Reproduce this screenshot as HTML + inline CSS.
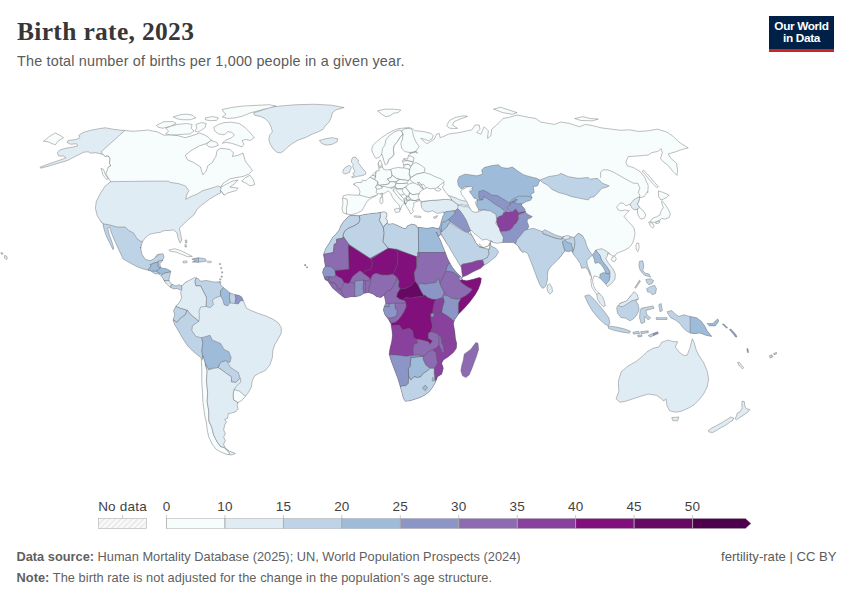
<!DOCTYPE html>
<html lang="en"><head><meta charset="utf-8"><title>Birth rate, 2023</title>
<style>
html,body{margin:0;padding:0;background:#fff;}
body{width:850px;height:600px;position:relative;overflow:hidden;font-family:"Liberation Sans",sans-serif;}
.title{position:absolute;left:17px;top:16px;font-family:"Liberation Serif",serif;font-weight:bold;font-size:25.5px;line-height:32px;color:#373737;white-space:nowrap;letter-spacing:0.32px;}
.sub{position:absolute;left:17px;top:51px;font-size:14.4px;line-height:20px;color:#5b5b5b;white-space:nowrap;letter-spacing:0.18px;}
.logo{position:absolute;left:769px;top:16px;width:65px;height:33px;background:#002147;border-bottom:3px solid #ce261e;color:#fff;font-weight:bold;font-size:11.8px;line-height:12.4px;text-align:center;letter-spacing:-0.35px;}
.logo span{display:block;padding-top:4px;}
.foot{position:absolute;left:16.5px;font-size:12.8px;line-height:16px;color:#5f5f5f;white-space:nowrap;}
.foot b{font-weight:bold;}
.f1{top:549px;} .f2{top:569.5px;letter-spacing:0.045px;}
.fr{position:absolute;right:13.5px;top:549px;font-size:13.1px;line-height:16px;color:#5b5b5b;white-space:nowrap;}
svg{position:absolute;left:0;top:0;}
.lg{font-family:"Liberation Sans",sans-serif;font-size:13.5px;letter-spacing:0.2px;fill:#3f3f3f;}
</style></head><body>
<svg width="850" height="600" viewBox="0 0 850 600">
<defs>
<pattern id="hatch" patternUnits="userSpaceOnUse" width="4" height="4" patternTransform="rotate(45)"><rect width="4" height="4" fill="#f8f8f8"/><line x1="0" y1="0" x2="0" y2="4" stroke="#dadada" stroke-width="1.4"/></pattern>
</defs>
<defs>
<clipPath id="cl0"><path d="M124.71,130.59 L114.12,129.41 L105.18,127.76 L97.65,128.94 L89.41,130.59 L83.06,132.47 L78.82,135.29 L80,137.65 L76,139.53 L68.24,140.47 L67.06,142.35 L70.59,144.24 L76.47,143.76 L77.65,145.88 L72.94,147.06 L65.88,148.24 L60,149.88 L57.18,152.94 L58.82,156 L63.53,156 L65.88,157.65 L62.35,159.29 L55.29,161.65 L48.24,164 L40,167.29 L40.71,168.24 L49.41,165.88 L58.82,163.06 L67.06,160.71 L70.59,158.82 L75.29,156.47 L80,154.12 L83.53,152.24 L88.24,151.76 L90.59,153.18 L95.29,152.71 L100,153.65 L102.82,154.59 L105.18,156.47 L108.24,156 L109.88,158.82 L109.41,163.53 L110.59,165.88 L108.24,167.06 L107.06,170.59 L105.88,174.12 L107.53,176.47 L109.41,180 L110.82,181.65 L105.29,185.88 L100.59,192.94 L96.35,201.18 L95.41,208.24 L97.06,215.29 L100.59,221.18 L102.94,223.76 L104.12,229.41 L106.47,236.47 L110,243.53 L113.06,249.65 L113.76,248.24 L111.88,241.65 L109.53,235.29 L107.65,228.24 L109.53,227.06 L111.88,234.12 L115.88,243.53 L120.12,252.47 L122.94,258.82 L128.82,262.35 L135.88,266.12 L141.76,268.47 L147.65,270.12 L151.18,271.29 L154.71,273.65 L158.94,274.12 L162.24,276.94 L164.12,280.71 L166.47,284 L170,287.06 L173.53,288.94 L177.06,288.47 L180.12,290.12 L182.47,289.65 L181.76,289.41 L182,285.88 L179.41,284.71 L175.88,285.88 L173.06,284.71 L170.71,283.53 L168.82,280 L170,275.29 L170.71,271.06 L166.47,268.71 L160.59,267.76 L159.88,263.53 L162.24,261.18 L164.12,256.47 L162.94,253.65 L157.06,254.59 L154.71,258.35 L150,260.71 L145.29,259.29 L141.76,254.12 L140.59,247.06 L140.59,248.24 L142.47,241.65 L145.29,237.65 L150,234.12 L155.88,232.94 L160.59,232.24 L164.12,230.59 L168.82,230.59 L173.53,229.88 L177.06,232.94 L178.24,238.82 L180.12,243.06 L181.76,240 L180.59,234.12 L179.41,228.24 L182.94,224.71 L187.65,220 L193.53,215.29 L197.06,209.41 L200.59,205.88 L205.29,202.35 L210,198.82 L215.88,195.29 L220.59,192.94 L220.59,190.59 L224.12,195.29 L227.65,192.94 L235.88,190.59 L238.24,188.24 L230,187.06 L234.71,183.53 L238.24,180 L232.35,181.18 L225.29,184.71 L220.59,187.53 L222.94,183.53 L230,178.82 L235.88,177.65 L242.94,176.47 L248.82,174.12 L252.35,170.59 L250,167.06 L245.29,161.18 L242.94,152.94 L238.24,155.29 L232.35,156.47 L233.53,152.94 L230,149.41 L220.59,148.24 L217.06,150.59 L215.88,156.47 L212.35,162.35 L207.65,165.88 L206.47,170.59 L202.94,174.82 L201.76,171.76 L200.59,167.06 L193.53,162.35 L187.65,160 L185.29,155.29 L191.18,150.59 L199.41,145.88 L206.47,143.53 L211.65,140.47 L208.82,137.65 L205.29,135.29 L199.41,132.94 L193.53,135.29 L185.29,137.65 L178.24,135.76 L171.18,134.82 L164.12,135.29 L157.06,131.76 L150,130.59 L149.41,129.88 L142.35,130.59 L132.94,131.29Z"/></clipPath>
<clipPath id="cl2"><path d="M191.88,259.06 L198.24,257.65 L205.29,258.82 L206.47,261.18 L198.24,262.35 L192.35,262.12 L195.18,260.71Z"/></clipPath>
<clipPath id="cl26"><path d="M181.76,285.88 L185.29,282.35 L190,280 L194.24,277.65 L197.53,278.12 L200.59,281.18 L206.47,280.47 L213.53,281.88 L219.41,281.88 L221.06,285.18 L223.41,287.53 L226.47,289.88 L230,292.94 L234.71,294.59 L238.94,295.29 L241.76,296.94 L243.18,300.24 L244.59,303.53 L246.47,308.24 L251.18,310.59 L258.24,313.41 L265.29,315.76 L272.35,318.82 L278.24,322.82 L281.29,327.53 L281.29,332.94 L278.24,338.82 L274.71,344.71 L272.82,350.59 L272.35,357.65 L270,364.71 L265.29,370.59 L259.41,373.06 L254.71,375.88 L252.35,380.59 L251.18,387.65 L247.65,393.53 L244.82,397.06 L241.76,400.59 L238.24,402.24 L237.06,405.29 L238.24,408.82 L235.88,411.65 L231.65,413.06 L228.35,413.53 L227.65,418.24 L224.59,419.41 L226.47,421.76 L224.59,425.29 L223.65,430 L225.29,433.53 L223.65,437.06 L225.29,440.59 L223.65,444.12 L224.59,446.94 L226.47,448.82 L229.29,451.18 L233.06,452.35 L235.41,453.53 L231.65,454.94 L226.47,454.24 L220.59,451.88 L215.88,449.06 L212.35,444.35 L208.82,437.29 L207.18,430 L206.47,422.94 L205.29,418.24 L204.12,411.18 L202.94,401.76 L202.47,392.35 L201.76,380.59 L201.76,368.82 L201.29,359.41 L201.76,358.82 L199.41,356.47 L193.53,351.76 L187.65,345.88 L182.94,338.82 L178.24,330.59 L174.71,324.71 L173.06,320 L174.71,314.82 L173.53,310.59 L175.88,306.35 L179.41,302.35 L181.76,297.65 L180.59,292.94 L181.76,289.41Z"/></clipPath>
<clipPath id="cl27"><path d="M349.17,215.83 L352.5,215.33 L359.17,215.83 L363.33,214.67 L370,213.67 L376.67,213 L380,212.5 L384.17,211.67 L386.67,213 L387,215.83 L385.83,218.33 L387.5,220.83 L387,223.33 L388.33,224.17 L393.33,223.67 L398.33,225.83 L403.33,228.33 L405.83,228.67 L407.5,225.83 L411.67,224.17 L415.83,225 L417.5,227.5 L420,227.5 L426.67,228.33 L433.33,227.5 L436.67,228.33 L439.17,228.5 L440,228.17 L440.67,234.17 L438.83,236.5 L436,232 L436.5,232 L437.67,235.33 L440.67,240.67 L442.83,246.5 L445,251.83 L447.5,258.33 L450,263.33 L452.5,267.5 L455.83,271.67 L459.17,275 L461.67,277.5 L462.5,280 L466.67,280.83 L473.33,279.17 L479.17,277.5 L481.33,278.33 L480.83,282.5 L478.33,289.17 L475,295 L470,301.67 L465,307.5 L460.83,311.67 L458.33,314.17 L455,319.17 L453.33,323.33 L454.17,328.33 L455,333.33 L455.33,338.33 L456.67,343.33 L456.33,348.33 L453.33,352.5 L448.33,356.67 L443.33,360 L441.67,363.33 L443.33,368.33 L441.67,374.17 L437.5,376.67 L436.67,379.17 L435,383.33 L432.5,387.5 L429.17,391.67 L425,395 L420,397.5 L415,399.17 L410,400.83 L405.33,401.33 L403.33,398.33 L401.67,391.67 L400,385.83 L398.33,380 L395.83,373.33 L393.33,366.67 L390.83,360 L389.17,354.17 L390,348.33 L391.67,341.67 L392.5,335 L391.67,328.33 L390.83,323.33 L388.33,319.17 L385,315 L383.33,310 L384.17,306.67 L385.83,303.33 L385,299.17 L384.17,295 L380.83,297.5 L376.67,296.67 L373.33,294.17 L368.67,292.5 L365.83,293 L364.17,293.33 L360,295.83 L355.33,296.67 L350.83,296.67 L345,298 L341.67,295.83 L338.33,293 L335.83,290.83 L332.5,288 L330,284.17 L327.5,280.83 L325,279.67 L324.17,277 L322.5,272.5 L323.33,269.17 L325.33,266.33 L324.67,262.5 L324.17,258.33 L323.33,254.67 L325.83,248.33 L329.17,243.33 L332.5,237.5 L335.83,234.17 L339.17,230 L340.83,225.83 L343.33,221.67 L346.67,218.33Z"/></clipPath>
<clipPath id="cl29"><path d="M359.17,195.33 L360,191.67 L358.33,187.5 L353.33,184.17 L356.67,182.5 L361.67,182.5 L362.5,180 L365.83,180.83 L368.33,178.33 L370.83,176.67 L374.17,173.33 L376.67,170.83 L379.17,170.83 L378.67,167.5 L378,163.33 L380,160 L381.67,162.5 L382.5,166.67 L383.33,169.17 L385.83,170 L390,169.67 L393.33,168.33 L398.33,167.5 L402.5,168 L404.17,166.67 L403.33,164.17 L402.5,160.83 L404.17,158.33 L407.5,159.17 L408.33,155.83 L410,153.33 L413.33,152.5 L416.67,151.67 L417.5,153.33 L415,151.67 L410,152.5 L405,151.67 L401.67,148.33 L400.83,143.33 L402.5,139.17 L403,134.17 L400,137.5 L397.5,141.67 L394.17,145.83 L393.33,150 L394.17,154.17 L392.5,156.67 L389.17,159.17 L387.5,163.33 L385.33,165 L385,164.17 L383.33,159.17 L382.5,155.83 L381.67,154.17 L379.17,157.5 L375.83,158.33 L374.17,155.83 L371.67,150 L372.5,145.83 L376.67,141.67 L381.67,137.5 L386.67,134.17 L392.5,130.83 L398.33,128.67 L404.17,128 L409.17,127.5 L413.33,129.17 L415,130.83 L417.5,130.83 L424.17,131.67 L430.83,133.33 L433.33,135.83 L431.67,139.17 L428.33,140.83 L424.17,139.17 L420.83,138.33 L423.33,140.83 L426.67,143.67 L429.17,142.5 L434.17,139.17 L436.67,134.17 L439.17,133.33 L440,137.5 L443.33,136.67 L448.33,134.17 L453.33,133.33 L460,132.5 L466.67,130.83 L471.67,130 L475,125 L479.17,125 L480,129.17 L476.67,132.5 L480.83,134.17 L484.17,126.67 L488.33,130.83 L487.5,138.33 L490.83,135.83 L491.67,129.17 L496.67,125 L500,121.67 L502.94,118.53 L508.82,117.35 L517.06,115 L522.94,116.18 L528.82,117.35 L535.88,118.53 L540.59,122.06 L547.65,123.24 L554.71,124.41 L560.59,122.06 L568.82,123.24 L575.88,125.59 L579.41,126.76 L585.29,124.41 L592.35,125.59 L601.76,127.94 L611.18,129.12 L620.59,130.29 L629.41,129.82 L638.82,131.47 L648.24,130.76 L657.65,129.12 L667.06,132.18 L672.94,136.18 L678.82,142.06 L688.24,147.94 L681.65,149.59 L675.29,151.94 L668.24,153.82 L670.59,158.06 L676.47,163.24 L677.65,170.29 L676.94,175.47 L672.94,171.47 L668.24,165.59 L663.53,162.06 L660.47,158.53 L662.35,152.65 L661.18,148.65 L657.65,151.47 L651.76,152.65 L648.24,155 L641.18,155.71 L634.12,156.18 L628.24,156.65 L625.88,162.06 L627.06,165.59 L634.12,167.94 L640,171.47 L644.71,177.35 L648.24,185.59 L647.76,192.65 L647.5,191.67 L644.17,196.67 L640.83,197.5 L639.67,197 L639.17,200.83 L637.5,204.17 L639.67,207.5 L643.33,210.83 L645.83,215 L644.17,218.33 L640.83,219.17 L638.33,215.83 L637.5,212.5 L637.5,209.17 L634.17,210 L631.67,207.5 L630,204.17 L625.83,205.83 L623.33,203.33 L620.33,202.83 L616.67,207 L618,209.67 L620.83,210.83 L625,210 L629.17,210.83 L625.83,214.17 L624.17,216.67 L627.5,220.83 L631.67,225 L634.17,228.33 L635,233.33 L634.17,238.33 L632.5,243.33 L629.17,247.5 L625,250 L620,252 L616.67,253.33 L615,255.83 L612.5,255.83 L610,254.17 L607.5,253.33 L607.5,255.83 L605.83,258.33 L607.5,261.67 L610,265 L613.33,269.17 L615.33,274.17 L615,279.17 L611.67,283.33 L607.5,286.67 L605.83,284.17 L602.5,280.83 L600,278.33 L597.5,276.67 L594.17,275.83 L592.5,280 L593.33,285 L595.83,290 L599.17,293.33 L602.5,296.67 L604.17,300.83 L605.33,305.83 L603.33,306.67 L600,303.33 L597.5,299.17 L596.67,294.17 L594.17,290.83 L591.67,286.67 L590.83,280.83 L591.33,276.67 L590,275 L588.33,270.83 L585.83,267.5 L581.67,268.33 L580,263.33 L576.67,258.33 L573.33,254.17 L572.5,251.67 L570.83,250.83 L568.33,251.67 L565,250.83 L562.5,254.17 L560,257.5 L555.83,261.67 L551.67,265.83 L548.33,270 L547.5,274.17 L547.5,280 L545.83,285.83 L543.67,288 L542.5,288.33 L540,285 L537.5,279.17 L535,272.5 L532.5,265.83 L530,259.17 L527.5,253.33 L524.17,251.67 L522.5,252.5 L520,250 L518.33,246.67 L518.33,246.33 L515.83,244.17 L513.33,242.5 L502.5,242.5 L496.67,243.33 L490.83,241.67 L486.67,239.17 L482.5,240 L478.33,236.67 L474.17,233.33 L470.83,230 L470,231.67 L470.83,233.33 L473.33,237.5 L475.83,242.5 L478.67,245.83 L479.67,243.83 L481,245.83 L483.33,247.5 L488.33,245.83 L490.33,242 L490.83,245.83 L495.83,248.33 L498.67,251.67 L495.83,256.67 L491.67,260 L487.5,263.33 L484.17,265 L480.83,268.33 L473.33,271.67 L467.5,275 L463.33,276.67 L462.5,277.5 L461.67,270.83 L461.17,267 L458.83,263.5 L455.33,257.67 L451.83,251.83 L448.83,246.5 L445.33,241.17 L442.33,236.5 L440.67,234.33 L440.83,230 L439.17,228 L440.33,225 L441.67,220 L443,215.83 L444.17,214.17 L443.33,211.67 L440.83,213 L436.67,213.33 L432.5,210.83 L428.33,212 L424.17,210.83 L421.67,207.5 L420.83,203.33 L421.67,200.33 L419.17,200.83 L416.67,201.67 L413.33,203.33 L414.17,205.83 L412.5,208.33 L413.33,211.67 L410.83,214.17 L409.17,210.83 L406.67,206.67 L405,204.17 L404.17,200.83 L403.33,198.33 L400.83,195.83 L397.5,191.67 L395.83,188.67 L393.33,189.17 L394.17,191.67 L396.67,195 L399.17,198.33 L402.5,200.83 L405.83,204.17 L404.17,203.33 L401.67,205.83 L400.33,210 L399.17,205 L395.83,201.67 L392.5,197.5 L390.83,193.33 L388.33,190.83 L385.83,192.5 L382.5,194.17 L378.67,193.67 L375.83,195.83 L372.5,197.5 L368.33,200 L365.83,203.33 L364.17,206.67 L361.67,210.83 L356.67,213.33 L351.67,214.67 L346.67,214.17 L343,212.5 L342,208.33 L343,203.33 L342.5,199.17 L343.33,195.83 L347.5,194.67 L353.33,195Z"/></clipPath>
<clipPath id="cl53"><path d="M667.06,311.76 L671.76,310.59 L675.29,314.12 L678.82,316.47 L683.53,314.82 L690.12,316.47 L696.47,317.65 L701.18,321.18 L704.71,325.88 L707.06,330.59 L711.76,336.47 L705.88,335.29 L700,332.94 L694.12,333.65 L690.12,332.94 L685.88,330.59 L682.35,327.06 L680,323.53 L675.29,320 L670.59,317.65 L668.24,314.12Z"/></clipPath>
<clipPath id="cl58"><path d="M616.67,307.5 L620,303.33 L626.67,300.83 L630,296.67 L634.17,291.67 L637.5,295 L638.33,299.17 L635.83,300.83 L638.33,305 L639.17,310 L636.67,315 L634.17,318.33 L630,320.83 L625.83,318.33 L620.83,317.5 L617.5,313.33Z"/></clipPath>
<clipPath id="cl62"><path d="M648.24,335.29 L657.65,331.76 L658.35,333.41 L649.88,337.18Z"/></clipPath>
</defs>
<g id="map" stroke-linejoin="round">
<path d="M124.71,130.59 L114.12,129.41 L105.18,127.76 L97.65,128.94 L89.41,130.59 L83.06,132.47 L78.82,135.29 L80,137.65 L76,139.53 L68.24,140.47 L67.06,142.35 L70.59,144.24 L76.47,143.76 L77.65,145.88 L72.94,147.06 L65.88,148.24 L60,149.88 L57.18,152.94 L58.82,156 L63.53,156 L65.88,157.65 L62.35,159.29 L55.29,161.65 L48.24,164 L40,167.29 L40.71,168.24 L49.41,165.88 L58.82,163.06 L67.06,160.71 L70.59,158.82 L75.29,156.47 L80,154.12 L83.53,152.24 L88.24,151.76 L90.59,153.18 L95.29,152.71 L100,153.65 L102.82,154.59 L105.18,156.47 L108.24,156 L109.88,158.82 L109.41,163.53 L110.59,165.88 L108.24,167.06 L107.06,170.59 L105.88,174.12 L107.53,176.47 L109.41,180 L110.82,181.65 L105.29,185.88 L100.59,192.94 L96.35,201.18 L95.41,208.24 L97.06,215.29 L100.59,221.18 L102.94,223.76 L104.12,229.41 L106.47,236.47 L110,243.53 L113.06,249.65 L113.76,248.24 L111.88,241.65 L109.53,235.29 L107.65,228.24 L109.53,227.06 L111.88,234.12 L115.88,243.53 L120.12,252.47 L122.94,258.82 L128.82,262.35 L135.88,266.12 L141.76,268.47 L147.65,270.12 L151.18,271.29 L154.71,273.65 L158.94,274.12 L162.24,276.94 L164.12,280.71 L166.47,284 L170,287.06 L173.53,288.94 L177.06,288.47 L180.12,290.12 L182.47,289.65 L181.76,289.41 L182,285.88 L179.41,284.71 L175.88,285.88 L173.06,284.71 L170.71,283.53 L168.82,280 L170,275.29 L170.71,271.06 L166.47,268.71 L160.59,267.76 L159.88,263.53 L162.24,261.18 L164.12,256.47 L162.94,253.65 L157.06,254.59 L154.71,258.35 L150,260.71 L145.29,259.29 L141.76,254.12 L140.59,247.06 L140.59,248.24 L142.47,241.65 L145.29,237.65 L150,234.12 L155.88,232.94 L160.59,232.24 L164.12,230.59 L168.82,230.59 L173.53,229.88 L177.06,232.94 L178.24,238.82 L180.12,243.06 L181.76,240 L180.59,234.12 L179.41,228.24 L182.94,224.71 L187.65,220 L193.53,215.29 L197.06,209.41 L200.59,205.88 L205.29,202.35 L210,198.82 L215.88,195.29 L220.59,192.94 L220.59,190.59 L224.12,195.29 L227.65,192.94 L235.88,190.59 L238.24,188.24 L230,187.06 L234.71,183.53 L238.24,180 L232.35,181.18 L225.29,184.71 L220.59,187.53 L222.94,183.53 L230,178.82 L235.88,177.65 L242.94,176.47 L248.82,174.12 L252.35,170.59 L250,167.06 L245.29,161.18 L242.94,152.94 L238.24,155.29 L232.35,156.47 L233.53,152.94 L230,149.41 L220.59,148.24 L217.06,150.59 L215.88,156.47 L212.35,162.35 L207.65,165.88 L206.47,170.59 L202.94,174.82 L201.76,171.76 L200.59,167.06 L193.53,162.35 L187.65,160 L185.29,155.29 L191.18,150.59 L199.41,145.88 L206.47,143.53 L211.65,140.47 L208.82,137.65 L205.29,135.29 L199.41,132.94 L193.53,135.29 L185.29,137.65 L178.24,135.76 L171.18,134.82 L164.12,135.29 L157.06,131.76 L150,130.59 L149.41,129.88 L142.35,130.59 L132.94,131.29Z" fill="#e0ecf4" stroke="none"/>
<g clip-path="url(#cl0)" stroke="#5e5e5e" stroke-width="0.4">
<path d="M124.71,130.59 L101.18,151.76 L102.82,154.59 L105.18,156.47 L108.24,156 L109.88,158.82 L109.41,163.53 L110.59,165.88 L104.71,168.24 L102.35,181.65 L110.82,181.65 L150,181.18 L168.82,181.18 L170,182.35 L178.24,183.53 L185.29,185.88 L188.82,190.59 L186.47,195.29 L185.76,199.29 L191.18,196.47 L197.06,194.12 L202.94,190.59 L211.18,188.24 L218.24,185.88 L221.06,187.53 L220.59,190.59 L225.29,196.47 L244.12,194.12 L258.24,177.65 L253.53,147.06 L220.59,135.29 L197.06,128.24 L150,123.53 L167.06,123.53 L124.71,123.53Z" fill="#f7fcfd"/>
<path d="M100.59,221.18 L102.94,223.76 L108.82,224.71 L117.06,227.06 L125.29,227.06 L128.82,230.59 L133.53,232.94 L137.06,238.82 L140.59,241.18 L143.41,241.65 L147.65,250.59 L154.71,257.65 L165.29,250.59 L166.47,257.65 L161.76,261.18 L158.24,261.18 L158.24,262.35 L155.88,262.35 L150,264.71 L151.18,265.88 L148.82,268.94 L147.65,272.94 L117.06,262.35 L98.24,241.18Z" fill="#bfd3e6"/>
<path d="M150,264.71 L155.88,262.35 L158.24,262.35 L158.24,266.59 L160.59,267.53 L156.59,271.29 L152.35,271.29 L147.65,270.12 L148.82,268.94 L151.18,265.88Z" fill="#9ebcda"/>
<path d="M158.24,261.18 L162.94,260 L162.24,266.59 L160.59,267.53 L158.24,266.59Z" fill="#bfd3e6"/>
<path d="M152.35,271.29 L156.59,271.29 L159.41,272.94 L158.94,275.06 L153.53,274.59 L151.18,272.24Z" fill="#bfd3e6"/>
<path d="M160.59,267.53 L162.24,266.12 L171.18,267.06 L171.65,271.76 L165.29,272.94 L161.76,274.59 L159.41,272.94 L156.59,271.29Z" fill="#9ebcda"/>
<path d="M161.76,274.59 L165.29,272.94 L171.65,271.76 L172.35,280 L168.82,280.71 L164.12,280.71 L160.59,276.94Z" fill="#bfd3e6"/>
<path d="M164.12,280.71 L168.82,280.71 L172.35,280 L173.53,284.71 L171.18,285.18 L170.71,287.76 L164.12,285.88Z" fill="#e0ecf4"/>
<path d="M171.18,285.18 L173.53,283.53 L185.29,283.53 L185.29,291.76 L170.71,290.59 L170.71,287.76Z" fill="#bfd3e6"/>
</g>
<path d="M124.71,130.59 L114.12,129.41 L105.18,127.76 L97.65,128.94 L89.41,130.59 L83.06,132.47 L78.82,135.29 L80,137.65 L76,139.53 L68.24,140.47 L67.06,142.35 L70.59,144.24 L76.47,143.76 L77.65,145.88 L72.94,147.06 L65.88,148.24 L60,149.88 L57.18,152.94 L58.82,156 L63.53,156 L65.88,157.65 L62.35,159.29 L55.29,161.65 L48.24,164 L40,167.29 L40.71,168.24 L49.41,165.88 L58.82,163.06 L67.06,160.71 L70.59,158.82 L75.29,156.47 L80,154.12 L83.53,152.24 L88.24,151.76 L90.59,153.18 L95.29,152.71 L100,153.65 L102.82,154.59 L105.18,156.47 L108.24,156 L109.88,158.82 L109.41,163.53 L110.59,165.88 L108.24,167.06 L107.06,170.59 L105.88,174.12 L107.53,176.47 L109.41,180 L110.82,181.65 L105.29,185.88 L100.59,192.94 L96.35,201.18 L95.41,208.24 L97.06,215.29 L100.59,221.18 L102.94,223.76 L104.12,229.41 L106.47,236.47 L110,243.53 L113.06,249.65 L113.76,248.24 L111.88,241.65 L109.53,235.29 L107.65,228.24 L109.53,227.06 L111.88,234.12 L115.88,243.53 L120.12,252.47 L122.94,258.82 L128.82,262.35 L135.88,266.12 L141.76,268.47 L147.65,270.12 L151.18,271.29 L154.71,273.65 L158.94,274.12 L162.24,276.94 L164.12,280.71 L166.47,284 L170,287.06 L173.53,288.94 L177.06,288.47 L180.12,290.12 L182.47,289.65 L181.76,289.41 L182,285.88 L179.41,284.71 L175.88,285.88 L173.06,284.71 L170.71,283.53 L168.82,280 L170,275.29 L170.71,271.06 L166.47,268.71 L160.59,267.76 L159.88,263.53 L162.24,261.18 L164.12,256.47 L162.94,253.65 L157.06,254.59 L154.71,258.35 L150,260.71 L145.29,259.29 L141.76,254.12 L140.59,247.06 L140.59,248.24 L142.47,241.65 L145.29,237.65 L150,234.12 L155.88,232.94 L160.59,232.24 L164.12,230.59 L168.82,230.59 L173.53,229.88 L177.06,232.94 L178.24,238.82 L180.12,243.06 L181.76,240 L180.59,234.12 L179.41,228.24 L182.94,224.71 L187.65,220 L193.53,215.29 L197.06,209.41 L200.59,205.88 L205.29,202.35 L210,198.82 L215.88,195.29 L220.59,192.94 L220.59,190.59 L224.12,195.29 L227.65,192.94 L235.88,190.59 L238.24,188.24 L230,187.06 L234.71,183.53 L238.24,180 L232.35,181.18 L225.29,184.71 L220.59,187.53 L222.94,183.53 L230,178.82 L235.88,177.65 L242.94,176.47 L248.82,174.12 L252.35,170.59 L250,167.06 L245.29,161.18 L242.94,152.94 L238.24,155.29 L232.35,156.47 L233.53,152.94 L230,149.41 L220.59,148.24 L217.06,150.59 L215.88,156.47 L212.35,162.35 L207.65,165.88 L206.47,170.59 L202.94,174.82 L201.76,171.76 L200.59,167.06 L193.53,162.35 L187.65,160 L185.29,155.29 L191.18,150.59 L199.41,145.88 L206.47,143.53 L211.65,140.47 L208.82,137.65 L205.29,135.29 L199.41,132.94 L193.53,135.29 L185.29,137.65 L178.24,135.76 L171.18,134.82 L164.12,135.29 L157.06,131.76 L150,130.59 L149.41,129.88 L142.35,130.59 L132.94,131.29Z" fill="none" stroke="#5e5e5e" stroke-width="0.4"/>
<path d="M168.82,250.12 L174.71,248.71 L180.59,250.59 L186.47,253.41 L192.35,256.47 L187.65,256.71 L181.76,254.35 L175.88,252 L170,251.29Z" fill="#f7fcfd" stroke="none"/>
<path d="M168.82,250.12 L174.71,248.71 L180.59,250.59 L186.47,253.41 L192.35,256.47 L187.65,256.71 L181.76,254.35 L175.88,252 L170,251.29Z" fill="none" stroke="#5e5e5e" stroke-width="0.4"/>
<path d="M191.88,259.06 L198.24,257.65 L205.29,258.82 L206.47,261.18 L198.24,262.35 L192.35,262.12 L195.18,260.71Z" fill="#bfd3e6" stroke="none"/>
<g clip-path="url(#cl2)" stroke="#5e5e5e" stroke-width="0.4">
<path d="M190,256.47 L198.47,256.47 L198.47,263.53 L190,263.53Z" fill="#9ebcda"/>
</g>
<path d="M191.88,259.06 L198.24,257.65 L205.29,258.82 L206.47,261.18 L198.24,262.35 L192.35,262.12 L195.18,260.71Z" fill="none" stroke="#5e5e5e" stroke-width="0.4"/>
<path d="M182.94,261.18 L186.94,260.94 L187.18,262.59 L183.41,263.06Z" fill="#e0ecf4" stroke="none"/>
<path d="M182.94,261.18 L186.94,260.94 L187.18,262.59 L183.41,263.06Z" fill="none" stroke="#5e5e5e" stroke-width="0.4"/>
<path d="M207.65,261.18 L211.18,261.18 L211.18,262.59 L207.65,262.59Z" fill="#f7fcfd" stroke="none"/>
<path d="M207.65,261.18 L211.18,261.18 L211.18,262.59 L207.65,262.59Z" fill="none" stroke="#5e5e5e" stroke-width="0.4"/>
<path d="M185.29,240 L186.71,240 L186.94,243.06 L185.53,243.06Z" fill="#e0ecf4" stroke="none"/>
<path d="M185.29,240 L186.71,240 L186.94,243.06 L185.53,243.06Z" fill="none" stroke="#5e5e5e" stroke-width="0.4"/>
<path d="M184.82,244.71 L186.24,244.71 L186.47,247.06 L185.06,247.06Z" fill="#e0ecf4" stroke="none"/>
<path d="M184.82,244.71 L186.24,244.71 L186.47,247.06 L185.06,247.06Z" fill="none" stroke="#5e5e5e" stroke-width="0.4"/>
<path d="M218.94,281.65 L220.82,281.65 L220.82,283.29 L218.94,283.29Z" fill="#e0ecf4" stroke="none"/>
<path d="M218.94,281.65 L220.82,281.65 L220.82,283.29 L218.94,283.29Z" fill="none" stroke="#5e5e5e" stroke-width="0.4"/>
<path d="M253.53,112.94 L260.59,110.59 L270,107.06 L281.76,105.88 L295.88,104.71 L314.71,104.24 L331.18,105.18 L344.12,107.53 L335.88,109.88 L332.35,112.94 L331.18,117.65 L328.82,122.35 L325.29,125.88 L322.94,129.41 L318.24,131.76 L312.35,134.12 L305.29,137.65 L298.24,140 L292.35,143.53 L287.65,147.06 L284.12,150.59 L280.59,152.94 L277.06,152.24 L273.53,149.41 L270.47,144.71 L268.82,140 L269.53,135.29 L272.35,131.76 L271.18,127.06 L268.82,122.35 L265.29,118.82 L260.59,116.47 L254.71,115.29Z" fill="#e0ecf4" stroke="none"/>
<path d="M253.53,112.94 L260.59,110.59 L270,107.06 L281.76,105.88 L295.88,104.71 L314.71,104.24 L331.18,105.18 L344.12,107.53 L335.88,109.88 L332.35,112.94 L331.18,117.65 L328.82,122.35 L325.29,125.88 L322.94,129.41 L318.24,131.76 L312.35,134.12 L305.29,137.65 L298.24,140 L292.35,143.53 L287.65,147.06 L284.12,150.59 L280.59,152.94 L277.06,152.24 L273.53,149.41 L270.47,144.71 L268.82,140 L269.53,135.29 L272.35,131.76 L271.18,127.06 L268.82,122.35 L265.29,118.82 L260.59,116.47 L254.71,115.29Z" fill="none" stroke="#5e5e5e" stroke-width="0.4"/>
<path d="M319.41,140.47 L325.29,138.82 L332.35,137.65 L337.76,138.82 L337.06,141.88 L332.35,144.24 L326.47,145.18 L321.76,143.53Z" fill="#e0ecf4" stroke="none"/>
<path d="M319.41,140.47 L325.29,138.82 L332.35,137.65 L337.76,138.82 L337.06,141.88 L332.35,144.24 L326.47,145.18 L321.76,143.53Z" fill="none" stroke="#5e5e5e" stroke-width="0.4"/>
<path d="M156.35,125.41 L163.88,121.65 L173.29,121.65 L176.12,123.53 L170.47,126.35 L162.94,128.24 L158.24,127.29Z" fill="#f7fcfd" stroke="none"/>
<path d="M156.35,125.41 L163.88,121.65 L173.29,121.65 L176.12,123.53 L170.47,126.35 L162.94,128.24 L158.24,127.29Z" fill="none" stroke="#5e5e5e" stroke-width="0.4"/>
<path d="M165.76,128.24 L170.47,126.35 L177.06,124.47 L186.47,123.53 L192.12,124.47 L191.18,128.24 L194,131.06 L190.24,133.88 L184.59,134.26 L177.06,134.82 L170.47,134.82 L165.76,133.88 L168.59,131.06Z" fill="#f7fcfd" stroke="none"/>
<path d="M165.76,128.24 L170.47,126.35 L177.06,124.47 L186.47,123.53 L192.12,124.47 L191.18,128.24 L194,131.06 L190.24,133.88 L184.59,134.26 L177.06,134.82 L170.47,134.82 L165.76,133.88 L168.59,131.06Z" fill="none" stroke="#5e5e5e" stroke-width="0.4"/>
<path d="M173.29,116.94 L180.82,114.68 L186.47,114.12 L192.12,115.06 L195.88,117.88 L190.24,119.76 L182.71,119.76 L177.06,118.82Z" fill="#f7fcfd" stroke="none"/>
<path d="M173.29,116.94 L180.82,114.68 L186.47,114.12 L192.12,115.06 L195.88,117.88 L190.24,119.76 L182.71,119.76 L177.06,118.82Z" fill="none" stroke="#5e5e5e" stroke-width="0.4"/>
<path d="M195.88,124.47 L201.53,122.59 L206.24,123.53 L205.29,127.29 L201.53,130.12 L197.76,132 L194.94,131.06 L196.82,128.24Z" fill="#f7fcfd" stroke="none"/>
<path d="M195.88,124.47 L201.53,122.59 L206.24,123.53 L205.29,127.29 L201.53,130.12 L197.76,132 L194.94,131.06 L196.82,128.24Z" fill="none" stroke="#5e5e5e" stroke-width="0.4"/>
<path d="M205.29,117.88 L212.82,116.56 L218.47,117.88 L216.59,120.33 L210,120.71 L205.29,119.76Z" fill="#f7fcfd" stroke="none"/>
<path d="M205.29,117.88 L212.82,116.56 L218.47,117.88 L216.59,120.33 L210,120.71 L205.29,119.76Z" fill="none" stroke="#5e5e5e" stroke-width="0.4"/>
<path d="M222.24,109.41 L231.65,107.53 L242.94,106.02 L258,105.27 L269.29,104.71 L275.88,106.02 L269.29,107.91 L259.88,110.35 L250.47,112.8 L242.94,116 L235.41,117.88 L227.88,118.45 L222.24,116.94 L226,114.12 L223.18,111.67Z" fill="#f7fcfd" stroke="none"/>
<path d="M222.24,109.41 L231.65,107.53 L242.94,106.02 L258,105.27 L269.29,104.71 L275.88,106.02 L269.29,107.91 L259.88,110.35 L250.47,112.8 L242.94,116 L235.41,117.88 L227.88,118.45 L222.24,116.94 L226,114.12 L223.18,111.67Z" fill="none" stroke="#5e5e5e" stroke-width="0.4"/>
<path d="M213.76,127.29 L218.47,124.47 L224.12,122.59 L231.65,122.21 L239.18,123.53 L244.82,127.29 L249.53,132 L254.24,137.65 L250.47,140.47 L245.76,139.53 L242,140.47 L243.88,144.24 L242,147.06 L237.29,145.18 L231.65,143.29 L226,142.35 L222.24,143.29 L225.06,140.47 L231.65,137.65 L234.47,134.82 L231.65,132.38 L227.88,131.62 L224.12,134.82 L218.47,133.88 L214.71,131.06Z" fill="#f7fcfd" stroke="none"/>
<path d="M213.76,127.29 L218.47,124.47 L224.12,122.59 L231.65,122.21 L239.18,123.53 L244.82,127.29 L249.53,132 L254.24,137.65 L250.47,140.47 L245.76,139.53 L242,140.47 L243.88,144.24 L242,147.06 L237.29,145.18 L231.65,143.29 L226,142.35 L222.24,143.29 L225.06,140.47 L231.65,137.65 L234.47,134.82 L231.65,132.38 L227.88,131.62 L224.12,134.82 L218.47,133.88 L214.71,131.06Z" fill="none" stroke="#5e5e5e" stroke-width="0.4"/>
<path d="M206.24,144.24 L210.94,140.47 L216.59,142.35 L218.47,145.18 L213.76,147.06 L209.06,147.06Z" fill="#f7fcfd" stroke="none"/>
<path d="M206.24,144.24 L210.94,140.47 L216.59,142.35 L218.47,145.18 L213.76,147.06 L209.06,147.06Z" fill="none" stroke="#5e5e5e" stroke-width="0.4"/>
<path d="M241.76,181.18 L245.29,177.65 L250,175.29 L253.53,180 L254.71,184.71 L250,185.88 L246.47,183.53Z" fill="#f7fcfd" stroke="none"/>
<path d="M241.76,181.18 L245.29,177.65 L250,175.29 L253.53,180 L254.71,184.71 L250,185.88 L246.47,183.53Z" fill="none" stroke="#5e5e5e" stroke-width="0.4"/>
<path d="M101.18,168.24 L103.53,169.41 L105.18,174.12 L108.24,178.82 L106.59,179.53 L102.82,174.82Z" fill="#f7fcfd" stroke="none"/>
<path d="M101.18,168.24 L103.53,169.41 L105.18,174.12 L108.24,178.82 L106.59,179.53 L102.82,174.82Z" fill="none" stroke="#5e5e5e" stroke-width="0.4"/>
<path d="M43.53,141.18 L49.41,136.47 L55.29,132.94 L60,135.29 L63.53,137.65 L58.82,140.47 L55.29,144.71 L51.76,143.53 L48.24,141.88Z" fill="#f7fcfd" stroke="none"/>
<path d="M43.53,141.18 L49.41,136.47 L55.29,132.94 L60,135.29 L63.53,137.65 L58.82,140.47 L55.29,144.71 L51.76,143.53 L48.24,141.88Z" fill="none" stroke="#5e5e5e" stroke-width="0.4"/>
<path d="M219.41,263.53 L220.59,263.53 L220.59,264.71 L219.41,264.71Z" fill="#e0ecf4" stroke="none"/>
<path d="M219.41,263.53 L220.59,263.53 L220.59,264.71 L219.41,264.71Z" fill="none" stroke="#5e5e5e" stroke-width="0.4"/>
<path d="M220.59,267.53 L221.76,267.53 L221.76,268.71 L220.59,268.71Z" fill="#e0ecf4" stroke="none"/>
<path d="M220.59,267.53 L221.76,267.53 L221.76,268.71 L220.59,268.71Z" fill="none" stroke="#5e5e5e" stroke-width="0.4"/>
<path d="M221.53,271.76 L222.71,271.76 L222.71,272.94 L221.53,272.94Z" fill="#e0ecf4" stroke="none"/>
<path d="M221.53,271.76 L222.71,271.76 L222.71,272.94 L221.53,272.94Z" fill="none" stroke="#5e5e5e" stroke-width="0.4"/>
<path d="M221.06,276 L222.24,276 L222.24,277.18 L221.06,277.18Z" fill="#e0ecf4" stroke="none"/>
<path d="M221.06,276 L222.24,276 L222.24,277.18 L221.06,277.18Z" fill="none" stroke="#5e5e5e" stroke-width="0.4"/>
<path d="M219.65,278.82 L220.82,278.82 L220.82,280 L219.65,280Z" fill="#e0ecf4" stroke="none"/>
<path d="M219.65,278.82 L220.82,278.82 L220.82,280 L219.65,280Z" fill="none" stroke="#5e5e5e" stroke-width="0.4"/>
<path d="M181.76,285.88 L185.29,282.35 L190,280 L194.24,277.65 L197.53,278.12 L200.59,281.18 L206.47,280.47 L213.53,281.88 L219.41,281.88 L221.06,285.18 L223.41,287.53 L226.47,289.88 L230,292.94 L234.71,294.59 L238.94,295.29 L241.76,296.94 L243.18,300.24 L244.59,303.53 L246.47,308.24 L251.18,310.59 L258.24,313.41 L265.29,315.76 L272.35,318.82 L278.24,322.82 L281.29,327.53 L281.29,332.94 L278.24,338.82 L274.71,344.71 L272.82,350.59 L272.35,357.65 L270,364.71 L265.29,370.59 L259.41,373.06 L254.71,375.88 L252.35,380.59 L251.18,387.65 L247.65,393.53 L244.82,397.06 L241.76,400.59 L238.24,402.24 L237.06,405.29 L238.24,408.82 L235.88,411.65 L231.65,413.06 L228.35,413.53 L227.65,418.24 L224.59,419.41 L226.47,421.76 L224.59,425.29 L223.65,430 L225.29,433.53 L223.65,437.06 L225.29,440.59 L223.65,444.12 L224.59,446.94 L226.47,448.82 L229.29,451.18 L233.06,452.35 L235.41,453.53 L231.65,454.94 L226.47,454.24 L220.59,451.88 L215.88,449.06 L212.35,444.35 L208.82,437.29 L207.18,430 L206.47,422.94 L205.29,418.24 L204.12,411.18 L202.94,401.76 L202.47,392.35 L201.76,380.59 L201.76,368.82 L201.29,359.41 L201.76,358.82 L199.41,356.47 L193.53,351.76 L187.65,345.88 L182.94,338.82 L178.24,330.59 L174.71,324.71 L173.06,320 L174.71,314.82 L173.53,310.59 L175.88,306.35 L179.41,302.35 L181.76,297.65 L180.59,292.94 L181.76,289.41Z" fill="#e0ecf4" stroke="none"/>
<g clip-path="url(#cl26)" stroke="#5e5e5e" stroke-width="0.4">
<path d="M197.53,275.29 L200.59,277.65 L206.47,277.65 L213.53,278.82 L221.76,280 L225.29,287.06 L223.41,287.53 L220.59,290.59 L220.59,296 L215.88,297.65 L212.35,300 L213.53,304.71 L210,307.76 L206,306.35 L206.47,297.65 L204.12,292.94 L200.59,285.88 L195.88,285.88 L194.71,281.18Z" fill="#bfd3e6"/>
<path d="M223.41,287.53 L227.65,287.06 L232.35,292.24 L230,292.94 L229.53,297.65 L230.47,302.35 L227.65,305.88 L224.12,304.71 L222.94,300 L220.59,296 L220.59,290.59Z" fill="#9ebcda"/>
<path d="M230,292.94 L232.35,290.59 L237.06,292.94 L235.18,294.59 L235.88,298.82 L234.71,303.53 L230.47,303.06 L229.53,297.65Z" fill="#bfd3e6"/>
<path d="M235.18,294.59 L237.06,292.94 L244.12,295.29 L244.12,300.71 L240.59,300.71 L238.24,304 L235.18,303.53 L235.88,298.82Z" fill="#8c96c6"/>
<path d="M175.88,306.35 L180.59,308.24 L187.18,310.12 L185.29,314.82 L180.59,318.12 L177.06,322.35 L173.53,320 L170,315.29 L171.18,308.24Z" fill="#bfd3e6"/>
<path d="M173.53,320 L177.06,322.35 L180.59,318.12 L185.29,314.82 L187.18,310.12 L191.18,314.82 L198.94,321.18 L192.35,325.88 L191.88,330.59 L195.88,336.47 L201.76,337.65 L202.94,343.53 L201.76,350.59 L202.94,357.65 L202.24,360 L197.06,360 L187.65,350.59 L178.24,336.47 L171.18,324.71Z" fill="#bfd3e6"/>
<path d="M201.76,337.65 L210,335.29 L212.35,340 L220.59,343.53 L224.12,349.41 L228.82,351.76 L231.18,357.65 L230,362.35 L222.94,361.18 L219.41,364.71 L217.06,368.94 L211.18,368.24 L207.65,369.41 L205.29,362.35 L202.94,357.65 L201.76,350.59 L202.94,343.53Z" fill="#9ebcda"/>
<path d="M220.59,362.24 L226.47,360.59 L230.71,367.65 L238.24,372.35 L240.12,378.24 L235.88,382.47 L231.18,381.76 L231.65,377.06 L226.47,373.53 L221.76,370 L218.24,367.65Z" fill="#bfd3e6"/>
<path d="M234,389.53 L239.41,391.18 L244.82,395.88 L248.82,397.06 L243.41,402.94 L238.24,402.94 L233.53,399.88 L233.06,394.71Z" fill="#f7fcfd"/>
<path d="M199.41,357.65 L202.24,359.53 L202.94,357.65 L202.94,355.88 L205.29,364.12 L207.18,371.18 L206.47,380.59 L207.65,392.35 L207.18,401.76 L208.82,411.18 L208.82,420.59 L211.88,427.65 L213.53,434.71 L217.06,441.76 L220.59,446.47 L224.59,447.65 L226.47,450 L230,453.53 L224.12,457.06 L212.35,451.18 L202.94,432.35 L198.24,397.06 L198.24,357.06Z" fill="#f7fcfd"/>
<path d="M181.76,285.88 L190,277.65 L197.53,275.29 L194.71,281.18 L195.88,285.88 L200.59,285.88 L204.12,292.94 L206.47,297.65 L206,306.35 L200.59,307.06 L198.94,311.76 L199.41,315.76 L198.94,321.18 L191.18,314.82 L187.18,310.12 L180.59,308.24 L175.88,306.35 L179.41,300 L178.24,291.76Z" fill="#e0ecf4"/>
<path d="M205.29,364.12 L208.82,370 L213.53,368.35 L218.24,367.65 L221.76,370 L226.47,373.53 L231.65,377.06 L231.18,381.76 L235.88,382.47 L240.12,378.24 L241.06,381.76 L237.06,385.29 L234,389.53 L233.06,394.71 L233.53,399.88 L238.24,402.94 L240.59,411.18 L228.82,420.59 L228.82,451.18 L224.59,447.65 L220.59,446.47 L217.06,441.76 L213.53,434.71 L211.88,427.65 L208.82,420.59 L208.82,411.18 L207.18,401.76 L207.65,392.35 L206.47,380.59 L207.18,371.18Z" fill="#e0ecf4"/>
</g>
<path d="M181.76,285.88 L185.29,282.35 L190,280 L194.24,277.65 L197.53,278.12 L200.59,281.18 L206.47,280.47 L213.53,281.88 L219.41,281.88 L221.06,285.18 L223.41,287.53 L226.47,289.88 L230,292.94 L234.71,294.59 L238.94,295.29 L241.76,296.94 L243.18,300.24 L244.59,303.53 L246.47,308.24 L251.18,310.59 L258.24,313.41 L265.29,315.76 L272.35,318.82 L278.24,322.82 L281.29,327.53 L281.29,332.94 L278.24,338.82 L274.71,344.71 L272.82,350.59 L272.35,357.65 L270,364.71 L265.29,370.59 L259.41,373.06 L254.71,375.88 L252.35,380.59 L251.18,387.65 L247.65,393.53 L244.82,397.06 L241.76,400.59 L238.24,402.24 L237.06,405.29 L238.24,408.82 L235.88,411.65 L231.65,413.06 L228.35,413.53 L227.65,418.24 L224.59,419.41 L226.47,421.76 L224.59,425.29 L223.65,430 L225.29,433.53 L223.65,437.06 L225.29,440.59 L223.65,444.12 L224.59,446.94 L226.47,448.82 L229.29,451.18 L233.06,452.35 L235.41,453.53 L231.65,454.94 L226.47,454.24 L220.59,451.88 L215.88,449.06 L212.35,444.35 L208.82,437.29 L207.18,430 L206.47,422.94 L205.29,418.24 L204.12,411.18 L202.94,401.76 L202.47,392.35 L201.76,380.59 L201.76,368.82 L201.29,359.41 L201.76,358.82 L199.41,356.47 L193.53,351.76 L187.65,345.88 L182.94,338.82 L178.24,330.59 L174.71,324.71 L173.06,320 L174.71,314.82 L173.53,310.59 L175.88,306.35 L179.41,302.35 L181.76,297.65 L180.59,292.94 L181.76,289.41Z" fill="none" stroke="#5e5e5e" stroke-width="0.4"/>
<path d="M349.17,215.83 L352.5,215.33 L359.17,215.83 L363.33,214.67 L370,213.67 L376.67,213 L380,212.5 L384.17,211.67 L386.67,213 L387,215.83 L385.83,218.33 L387.5,220.83 L387,223.33 L388.33,224.17 L393.33,223.67 L398.33,225.83 L403.33,228.33 L405.83,228.67 L407.5,225.83 L411.67,224.17 L415.83,225 L417.5,227.5 L420,227.5 L426.67,228.33 L433.33,227.5 L436.67,228.33 L439.17,228.5 L440,228.17 L440.67,234.17 L438.83,236.5 L436,232 L436.5,232 L437.67,235.33 L440.67,240.67 L442.83,246.5 L445,251.83 L447.5,258.33 L450,263.33 L452.5,267.5 L455.83,271.67 L459.17,275 L461.67,277.5 L462.5,280 L466.67,280.83 L473.33,279.17 L479.17,277.5 L481.33,278.33 L480.83,282.5 L478.33,289.17 L475,295 L470,301.67 L465,307.5 L460.83,311.67 L458.33,314.17 L455,319.17 L453.33,323.33 L454.17,328.33 L455,333.33 L455.33,338.33 L456.67,343.33 L456.33,348.33 L453.33,352.5 L448.33,356.67 L443.33,360 L441.67,363.33 L443.33,368.33 L441.67,374.17 L437.5,376.67 L436.67,379.17 L435,383.33 L432.5,387.5 L429.17,391.67 L425,395 L420,397.5 L415,399.17 L410,400.83 L405.33,401.33 L403.33,398.33 L401.67,391.67 L400,385.83 L398.33,380 L395.83,373.33 L393.33,366.67 L390.83,360 L389.17,354.17 L390,348.33 L391.67,341.67 L392.5,335 L391.67,328.33 L390.83,323.33 L388.33,319.17 L385,315 L383.33,310 L384.17,306.67 L385.83,303.33 L385,299.17 L384.17,295 L380.83,297.5 L376.67,296.67 L373.33,294.17 L368.67,292.5 L365.83,293 L364.17,293.33 L360,295.83 L355.33,296.67 L350.83,296.67 L345,298 L341.67,295.83 L338.33,293 L335.83,290.83 L332.5,288 L330,284.17 L327.5,280.83 L325,279.67 L324.17,277 L322.5,272.5 L323.33,269.17 L325.33,266.33 L324.67,262.5 L324.17,258.33 L323.33,254.67 L325.83,248.33 L329.17,243.33 L332.5,237.5 L335.83,234.17 L339.17,230 L340.83,225.83 L343.33,221.67 L346.67,218.33Z" fill="#8c6bb1" stroke="none"/>
<g clip-path="url(#cl27)" stroke="#5e5e5e" stroke-width="0.4">
<path d="M345,211.67 L359.17,214.17 L360,220 L358.33,223.33 L354.17,225.83 L348.33,228.33 L345,230.83 L343.33,234.17 L343.33,236.67 L342.5,238.33 L336.67,239.17 L336.67,243.33 L334.17,244.17 L333.33,252.5 L324.17,254.17 L320,256.67 L320,236.67Z" fill="#bfd3e6"/>
<path d="M359.17,214.17 L370,211.67 L380.83,210.83 L380.33,217.5 L379.17,220 L381.67,224.17 L383.33,227.5 L384.17,233.33 L383,241.67 L388.33,248.33 L370,258.33 L348.67,244.17 L343.33,236.67 L343.33,234.17 L345,230.83 L348.33,228.33 L354.17,225.83 L358.33,223.33 L360,220Z" fill="#bfd3e6"/>
<path d="M380.33,210.83 L385.83,210 L390,213.33 L389.17,223.33 L387,223.33 L385,225 L383.33,227.5 L381.67,224.17 L379.17,220 L380.33,217.5Z" fill="#e0ecf4"/>
<path d="M387,223.33 L389.17,221.67 L420,220 L418.33,227.5 L418.67,252.5 L417.5,252.5 L417.5,257.5 L396.67,249.17 L388.33,248.33 L383,241.67 L384.17,233.33 L383.33,227.5 L385,225Z" fill="#bfd3e6"/>
<path d="M418.33,227.5 L419.17,225 L441.67,225 L442.5,236.67 L448.33,252.5 L418.67,252.5Z" fill="#9ebcda"/>
<path d="M343.33,236.67 L348.67,244.17 L348.67,270 L323.33,270 L324.17,254.17 L333.33,252.5 L334.17,244.17 L336.67,243.33 L336.67,239.17 L342.5,238.33Z" fill="#8c6bb1"/>
<path d="M325.83,266.33 L330.83,266.67 L335,270.33 L335.83,275 L334.17,277 L329.17,276.67 L324.17,277 L320,277 L320,266.67Z" fill="#8c96c6"/>
<path d="M324.17,277 L329.17,276.67 L329.17,279.17 L325.83,280.33 L321.67,280Z" fill="#8c6bb1"/>
<path d="M329.17,277 L334.17,277 L335.83,275 L338.33,276.67 L341.67,278.33 L344.17,282.5 L342.5,285.83 L340.83,289.17 L338.33,288.33 L336.67,285 L334.17,282.5 L331.67,282.5 L330,280.83 L327.5,280.83 L325.83,280.33 L329.17,279.17Z" fill="#8c6bb1"/>
<path d="M331.67,283 L334.17,283 L336.67,285.33 L337.5,289.17 L335,291.67 L330,288.33 L328.33,282.5Z" fill="#8c6bb1"/>
<path d="M337.5,289.17 L340.83,289.67 L342.5,293.33 L345,298 L341.67,298.33 L333.33,291.67 L335,290.83Z" fill="#8c6bb1"/>
<path d="M344.17,282.5 L348.33,283.33 L352.5,282.5 L355,285.83 L354.67,291.67 L355.33,298.33 L345,299.17 L342.5,293.33 L340.83,289.67 L342.5,285.83Z" fill="#8c6bb1"/>
<path d="M348.33,244.67 L370.83,259.17 L371.67,259.17 L372.5,264.17 L370.83,269.17 L365,270.83 L363.33,273.33 L360,270.83 L356.67,273.33 L352.5,276.67 L350,281.67 L348.33,283.33 L344.17,282.5 L341.67,278.33 L338.33,276.67 L335.83,275 L335,270.83 L349.17,269.17Z" fill="#810f7c"/>
<path d="M352.5,276.67 L356.67,273.33 L360,270.83 L363.33,273.33 L368.33,276.67 L370.83,279.17 L367.5,280.83 L363.33,280.33 L355.83,280.83 L354.67,283.33 L352.5,282.5 L350,281.67Z" fill="#8c6bb1"/>
<path d="M355.83,280.83 L363.33,280.33 L363.67,282.5 L363,288.33 L364.17,293.33 L364.17,298.33 L355.33,298.33 L354.67,291.67 L355,285.83 L354.67,283.33Z" fill="#8c96c6"/>
<path d="M363.33,280.33 L365.33,280.83 L365.83,293 L365.83,295.83 L364.17,295.83 L364.17,293.33 L363,288.33 L363.67,282.5Z" fill="#8c6bb1"/>
<path d="M365.33,280.83 L367.5,280.83 L370.83,279.17 L370.33,283.33 L369.17,287.5 L368.67,292.5 L368.67,295 L365.83,295 L365.83,293Z" fill="#8c6bb1"/>
<path d="M370.83,259.17 L388.33,248.33 L396.67,249.67 L398,256.67 L397.5,264.17 L395,270 L393.33,274.17 L388.33,275 L381.67,275 L375.83,273.33 L372.5,275 L370.83,279.17 L368.33,276.67 L363.33,273.33 L365,270.83 L370.83,269.17 L372.5,264.17 L371.67,259.17Z" fill="#810f7c"/>
<path d="M370.83,279.17 L372.5,275 L375.83,273.33 L381.67,275 L388.33,275 L393.33,274.17 L396.67,276.67 L396.33,280.83 L393.33,285.83 L390.83,290 L387.5,290.83 L384.17,295 L380.83,300 L373.33,298.33 L368.67,295 L368.67,292.5 L369.17,287.5 L370.33,283.33Z" fill="#8c6bb1"/>
<path d="M396.67,249.67 L416.67,256.67 L416.67,267.5 L414.17,272.5 L415.83,280.83 L410.83,285.83 L405.83,288.33 L400,289.17 L398.33,285.83 L399.17,281.67 L396.67,276.67 L393.33,274.17 L395,270 L397.5,264.17 L398,256.67Z" fill="#810f7c"/>
<path d="M384.17,295 L387.5,290.83 L390.83,290 L393.33,285.83 L396.33,280.83 L396.67,276.67 L399.17,281.67 L398.33,285.83 L400,289.17 L397.5,293.33 L396.67,296.67 L400,299.17 L403.33,300 L405.83,301.67 L405,303.33 L395,303.33 L385.83,303.67 L382.5,303.33 L381.67,296.67Z" fill="#8c6bb1"/>
<path d="M400,289.17 L405.83,288.33 L410.83,285.83 L415.83,280.83 L419.17,285.83 L421.67,289.17 L425,295 L421.67,296.67 L416.67,297 L410.83,298.33 L405.83,297.5 L403.33,300 L400,299.17 L396.67,296.67 L397.5,293.33Z" fill="#670864"/>
<path d="M382.5,303.67 L389.17,303.67 L389.17,306.67 L382.5,306.67Z" fill="#8c96c6"/>
<path d="M389.17,303.67 L395,303.33 L395.33,308.33 L397.5,310.83 L396.67,315.83 L393.33,317.5 L389.17,318.33 L385.83,315.83 L381.67,311.67 L382.5,306.67 L389.17,306.67Z" fill="#8c96c6"/>
<path d="M395,303.33 L405,303.33 L405.83,301.67 L406.33,306.67 L404.17,311.67 L401.67,315.83 L398.33,320 L395,322.5 L395,322.5 L390.83,323.33 L388.33,320 L389.67,318.33 L389.17,318.33 L393.33,317.5 L396.67,315.83 L397.5,310.83 L395.33,308.33Z" fill="#8c6bb1"/>
<path d="M419.17,252.5 L446.67,252.5 L450,251.67 L451.67,263.33 L448.33,264.17 L446.67,268.33 L445.83,271.67 L444.17,275 L441.67,280 L440,283.33 L438.33,278.33 L435.83,282.5 L430,283.33 L425,284.17 L420,283.33 L418.33,285.83 L415,280.83 L414.17,273.33 L416.67,267.5 L416.67,256.67 L419.17,256.67Z" fill="#8c6bb1"/>
<path d="M418.33,285.83 L420,283.33 L425,284.17 L430,283.33 L435.83,282.5 L438.33,278.33 L440,283.33 L441.67,287.5 L444.17,291.67 L443.33,295 L440.83,298.33 L435.83,299.67 L431.67,299.17 L427.5,297.5 L423.33,295 L420.83,290.83Z" fill="#8c96c6"/>
<path d="M448.33,264.17 L451.67,262.5 L455,267.5 L460,273.33 L464.17,277.5 L460.33,278.33 L456.67,275 L453.33,272.5 L450,271.67 L445.83,271.67 L446.67,268.33Z" fill="#8c96c6"/>
<path d="M459.17,276.67 L462.5,276.33 L463.33,280 L460,280.83 L458.67,278.67Z" fill="#9ebcda"/>
<path d="M445.83,271.67 L450,271.67 L453.33,272.5 L456.67,275 L459.17,277 L458.67,278.67 L460,280.83 L462.5,283.33 L467.5,286.67 L472.5,289.17 L470,292.5 L465.83,295.83 L460.83,298.33 L456.67,299.17 L451.67,298.33 L447.5,295.83 L444.17,291.67 L441.67,287.5 L440,283.33 L441.67,280 L444.17,275Z" fill="#8c6bb1"/>
<path d="M460,280.83 L463.33,279.17 L466.67,279.17 L483.33,275 L485,283.33 L475,298.33 L460.83,315 L456.67,318.33 L458.33,314.17 L458.33,303.33 L460.83,298.33 L465.83,295.83 L470,292.5 L472.5,289.17 L467.5,286.67 L462.5,283.33Z" fill="#810f7c"/>
<path d="M443.33,295 L447.5,295.83 L451.67,298.33 L456.67,299.17 L460.83,298.33 L458.33,303.33 L458.33,314.17 L460,315 L455,325 L453.33,320.83 L448.33,316.67 L441.67,312.5 L441.67,311.67 L442.5,306.67 L444.17,301.67 L443.33,298.33Z" fill="#8c96c6"/>
<path d="M435.83,299.67 L440.83,298.33 L443.33,298.33 L444.17,301.67 L442.5,306.67 L441.67,311.67 L441.67,312.5 L434.17,313.33 L430.83,313.67 L432.5,312.5 L433.33,306.67 L434.17,302.5Z" fill="#88419d"/>
<path d="M405.83,297.5 L410.83,298.33 L416.67,297 L421.67,296.67 L425,295 L427.5,297.5 L431.67,299.17 L435.83,299.67 L434.17,302.5 L433.33,306.67 L432.5,312.5 L430.83,313.67 L430.83,316.67 L431.67,321.67 L432.5,326.67 L430.83,331.67 L428.33,333.33 L428.33,338.33 L432.5,340.83 L430,344.17 L428.33,341.67 L421.67,340 L416.67,339.17 L413.67,337.5 L412.5,330.83 L409.17,328.33 L402.5,330 L399.17,325 L391.67,325.83 L390.83,323.33 L395,322.5 L395,322.5 L398.33,320 L401.67,315.83 L404.17,311.67 L406.33,306.67 L405.83,301.67 L403.33,300Z" fill="#810f7c"/>
<path d="M430.83,313.67 L434.17,313.33 L433.83,317 L431,317.33Z" fill="#8c96c6"/>
<path d="M431,317.33 L433.83,317 L433.33,320.33 L431.33,321Z" fill="#8c6bb1"/>
<path d="M434.17,313.33 L441.67,312.5 L448.33,316.67 L453.33,320.83 L455.83,323.33 L456.67,338.33 L455.33,338.33 L450,340 L444.17,340.83 L441.67,342.5 L440.83,336.67 L438.67,335 L435.83,333.33 L430.83,331.67 L432.5,326.67 L431.67,321.67 L430.83,316.67 L431,317.33 L433.83,317Z" fill="#88419d"/>
<path d="M391.67,325.83 L399.17,325 L402.5,330 L409.17,328.33 L412.5,330.83 L413.67,337.5 L416.67,339.17 L417.5,343.33 L414.17,344.17 L413,350 L413.67,355.33 L405.83,356.33 L396.67,355 L389.17,354.67 L386.67,355 L386.67,325.83Z" fill="#88419d"/>
<path d="M387.5,320.33 L390.33,321 L391.33,323.67 L388.67,324Z" fill="#88419d"/>
<path d="M417.5,343.33 L416.67,339.17 L421.67,340 L428.33,341.67 L430,344.17 L432.5,340.83 L428.33,338.33 L428.33,333.33 L430.83,331.67 L435.83,333.33 L438.67,335 L439.17,340.83 L438.33,345.83 L435.83,348.33 L432.5,350 L428.33,351.67 L426.67,354.17 L423,356.33 L418.33,355 L413.67,355.33 L413,350 L414.17,344.17Z" fill="#8c6bb1"/>
<path d="M438.67,335 L440.83,336.67 L441.67,342.5 L443.33,345.83 L444.17,351.67 L442.5,353.33 L440.83,349.17 L439.17,345.83 L439.17,340.83Z" fill="#8c6bb1"/>
<path d="M455.33,338.33 L460,338.33 L460,350 L445,363.33 L445,376.67 L436.67,381.67 L435,380 L434.17,373.33 L434.17,368.33 L437.5,363.33 L436.67,358.33 L435.83,352.5 L432.5,350 L435.83,348.33 L438.33,345.83 L439.17,345.83 L440.83,349.17 L442.5,353.33 L444.17,351.67 L443.33,345.83 L441.67,342.5 L444.17,340.83 L450,340Z" fill="#88419d"/>
<path d="M423,356.33 L426.67,354.17 L428.33,351.67 L432.5,350 L435.83,352.5 L436.67,358.33 L437.5,363.33 L434.17,368.33 L430,368.33 L425.83,365 L423.33,360Z" fill="#8c6bb1"/>
<path d="M410.83,357.5 L418.33,356.67 L423,356.33 L423.33,360 L425.83,365 L430,368.33 L427.5,370.83 L423.33,373.33 L420.83,376.67 L417.5,377.5 L414.17,376.67 L410.83,380 L408.67,376.67 L408.33,368.33 L410,366.67Z" fill="#9ebcda"/>
<path d="M386.67,354.67 L396.67,355 L405.83,356.33 L413.67,355.33 L418.33,355 L423,356.33 L418.33,356.67 L410.83,357.5 L410,366.67 L408.33,368.33 L408.67,376.67 L408.33,383.33 L405.83,385.83 L402.5,385.83 L400,387 L386.67,386.67Z" fill="#8c96c6"/>
<path d="M400,387 L402.5,385.83 L405.83,385.83 L408.33,383.33 L408.67,376.67 L410.83,380 L414.17,376.67 L417.5,377.5 L420.83,376.67 L423.33,373.33 L427.5,370.83 L430,368.33 L434.17,368.33 L434.17,373.33 L435,380 L436.67,381.67 L440,383.33 L428.33,403.33 L400,405 L395,388.33Z" fill="#bfd3e6"/>
<path d="M425,385 L427.5,387.5 L425.33,390.83 L422.5,388.33Z" fill="#9ebcda"/>
<path d="M432.5,377.5 L434.67,378.33 L434.17,381.33 L432,380.33Z" fill="#9ebcda"/>
</g>
<path d="M349.17,215.83 L352.5,215.33 L359.17,215.83 L363.33,214.67 L370,213.67 L376.67,213 L380,212.5 L384.17,211.67 L386.67,213 L387,215.83 L385.83,218.33 L387.5,220.83 L387,223.33 L388.33,224.17 L393.33,223.67 L398.33,225.83 L403.33,228.33 L405.83,228.67 L407.5,225.83 L411.67,224.17 L415.83,225 L417.5,227.5 L420,227.5 L426.67,228.33 L433.33,227.5 L436.67,228.33 L439.17,228.5 L440,228.17 L440.67,234.17 L438.83,236.5 L436,232 L436.5,232 L437.67,235.33 L440.67,240.67 L442.83,246.5 L445,251.83 L447.5,258.33 L450,263.33 L452.5,267.5 L455.83,271.67 L459.17,275 L461.67,277.5 L462.5,280 L466.67,280.83 L473.33,279.17 L479.17,277.5 L481.33,278.33 L480.83,282.5 L478.33,289.17 L475,295 L470,301.67 L465,307.5 L460.83,311.67 L458.33,314.17 L455,319.17 L453.33,323.33 L454.17,328.33 L455,333.33 L455.33,338.33 L456.67,343.33 L456.33,348.33 L453.33,352.5 L448.33,356.67 L443.33,360 L441.67,363.33 L443.33,368.33 L441.67,374.17 L437.5,376.67 L436.67,379.17 L435,383.33 L432.5,387.5 L429.17,391.67 L425,395 L420,397.5 L415,399.17 L410,400.83 L405.33,401.33 L403.33,398.33 L401.67,391.67 L400,385.83 L398.33,380 L395.83,373.33 L393.33,366.67 L390.83,360 L389.17,354.17 L390,348.33 L391.67,341.67 L392.5,335 L391.67,328.33 L390.83,323.33 L388.33,319.17 L385,315 L383.33,310 L384.17,306.67 L385.83,303.33 L385,299.17 L384.17,295 L380.83,297.5 L376.67,296.67 L373.33,294.17 L368.67,292.5 L365.83,293 L364.17,293.33 L360,295.83 L355.33,296.67 L350.83,296.67 L345,298 L341.67,295.83 L338.33,293 L335.83,290.83 L332.5,288 L330,284.17 L327.5,280.83 L325,279.67 L324.17,277 L322.5,272.5 L323.33,269.17 L325.33,266.33 L324.67,262.5 L324.17,258.33 L323.33,254.67 L325.83,248.33 L329.17,243.33 L332.5,237.5 L335.83,234.17 L339.17,230 L340.83,225.83 L343.33,221.67 L346.67,218.33Z" fill="none" stroke="#5e5e5e" stroke-width="0.4"/>
<path d="M475.83,342.5 L478,343.33 L478.67,349.17 L476.67,355.83 L474.17,362.5 L471.67,369.17 L469.17,375 L465.83,377.5 L462.5,375.83 L460.83,370.83 L461.67,365.83 L463.33,360 L464.17,354.17 L467.5,351.67 L470.83,349.17 L473.33,345.83Z" fill="#8c6bb1" stroke="none"/>
<path d="M475.83,342.5 L478,343.33 L478.67,349.17 L476.67,355.83 L474.17,362.5 L471.67,369.17 L469.17,375 L465.83,377.5 L462.5,375.83 L460.83,370.83 L461.67,365.83 L463.33,360 L464.17,354.17 L467.5,351.67 L470.83,349.17 L473.33,345.83Z" fill="none" stroke="#5e5e5e" stroke-width="0.4"/>
<path d="M359.17,195.33 L360,191.67 L358.33,187.5 L353.33,184.17 L356.67,182.5 L361.67,182.5 L362.5,180 L365.83,180.83 L368.33,178.33 L370.83,176.67 L374.17,173.33 L376.67,170.83 L379.17,170.83 L378.67,167.5 L378,163.33 L380,160 L381.67,162.5 L382.5,166.67 L383.33,169.17 L385.83,170 L390,169.67 L393.33,168.33 L398.33,167.5 L402.5,168 L404.17,166.67 L403.33,164.17 L402.5,160.83 L404.17,158.33 L407.5,159.17 L408.33,155.83 L410,153.33 L413.33,152.5 L416.67,151.67 L417.5,153.33 L415,151.67 L410,152.5 L405,151.67 L401.67,148.33 L400.83,143.33 L402.5,139.17 L403,134.17 L400,137.5 L397.5,141.67 L394.17,145.83 L393.33,150 L394.17,154.17 L392.5,156.67 L389.17,159.17 L387.5,163.33 L385.33,165 L385,164.17 L383.33,159.17 L382.5,155.83 L381.67,154.17 L379.17,157.5 L375.83,158.33 L374.17,155.83 L371.67,150 L372.5,145.83 L376.67,141.67 L381.67,137.5 L386.67,134.17 L392.5,130.83 L398.33,128.67 L404.17,128 L409.17,127.5 L413.33,129.17 L415,130.83 L417.5,130.83 L424.17,131.67 L430.83,133.33 L433.33,135.83 L431.67,139.17 L428.33,140.83 L424.17,139.17 L420.83,138.33 L423.33,140.83 L426.67,143.67 L429.17,142.5 L434.17,139.17 L436.67,134.17 L439.17,133.33 L440,137.5 L443.33,136.67 L448.33,134.17 L453.33,133.33 L460,132.5 L466.67,130.83 L471.67,130 L475,125 L479.17,125 L480,129.17 L476.67,132.5 L480.83,134.17 L484.17,126.67 L488.33,130.83 L487.5,138.33 L490.83,135.83 L491.67,129.17 L496.67,125 L500,121.67 L502.94,118.53 L508.82,117.35 L517.06,115 L522.94,116.18 L528.82,117.35 L535.88,118.53 L540.59,122.06 L547.65,123.24 L554.71,124.41 L560.59,122.06 L568.82,123.24 L575.88,125.59 L579.41,126.76 L585.29,124.41 L592.35,125.59 L601.76,127.94 L611.18,129.12 L620.59,130.29 L629.41,129.82 L638.82,131.47 L648.24,130.76 L657.65,129.12 L667.06,132.18 L672.94,136.18 L678.82,142.06 L688.24,147.94 L681.65,149.59 L675.29,151.94 L668.24,153.82 L670.59,158.06 L676.47,163.24 L677.65,170.29 L676.94,175.47 L672.94,171.47 L668.24,165.59 L663.53,162.06 L660.47,158.53 L662.35,152.65 L661.18,148.65 L657.65,151.47 L651.76,152.65 L648.24,155 L641.18,155.71 L634.12,156.18 L628.24,156.65 L625.88,162.06 L627.06,165.59 L634.12,167.94 L640,171.47 L644.71,177.35 L648.24,185.59 L647.76,192.65 L647.5,191.67 L644.17,196.67 L640.83,197.5 L639.67,197 L639.17,200.83 L637.5,204.17 L639.67,207.5 L643.33,210.83 L645.83,215 L644.17,218.33 L640.83,219.17 L638.33,215.83 L637.5,212.5 L637.5,209.17 L634.17,210 L631.67,207.5 L630,204.17 L625.83,205.83 L623.33,203.33 L620.33,202.83 L616.67,207 L618,209.67 L620.83,210.83 L625,210 L629.17,210.83 L625.83,214.17 L624.17,216.67 L627.5,220.83 L631.67,225 L634.17,228.33 L635,233.33 L634.17,238.33 L632.5,243.33 L629.17,247.5 L625,250 L620,252 L616.67,253.33 L615,255.83 L612.5,255.83 L610,254.17 L607.5,253.33 L607.5,255.83 L605.83,258.33 L607.5,261.67 L610,265 L613.33,269.17 L615.33,274.17 L615,279.17 L611.67,283.33 L607.5,286.67 L605.83,284.17 L602.5,280.83 L600,278.33 L597.5,276.67 L594.17,275.83 L592.5,280 L593.33,285 L595.83,290 L599.17,293.33 L602.5,296.67 L604.17,300.83 L605.33,305.83 L603.33,306.67 L600,303.33 L597.5,299.17 L596.67,294.17 L594.17,290.83 L591.67,286.67 L590.83,280.83 L591.33,276.67 L590,275 L588.33,270.83 L585.83,267.5 L581.67,268.33 L580,263.33 L576.67,258.33 L573.33,254.17 L572.5,251.67 L570.83,250.83 L568.33,251.67 L565,250.83 L562.5,254.17 L560,257.5 L555.83,261.67 L551.67,265.83 L548.33,270 L547.5,274.17 L547.5,280 L545.83,285.83 L543.67,288 L542.5,288.33 L540,285 L537.5,279.17 L535,272.5 L532.5,265.83 L530,259.17 L527.5,253.33 L524.17,251.67 L522.5,252.5 L520,250 L518.33,246.67 L518.33,246.33 L515.83,244.17 L513.33,242.5 L502.5,242.5 L496.67,243.33 L490.83,241.67 L486.67,239.17 L482.5,240 L478.33,236.67 L474.17,233.33 L470.83,230 L470,231.67 L470.83,233.33 L473.33,237.5 L475.83,242.5 L478.67,245.83 L479.67,243.83 L481,245.83 L483.33,247.5 L488.33,245.83 L490.33,242 L490.83,245.83 L495.83,248.33 L498.67,251.67 L495.83,256.67 L491.67,260 L487.5,263.33 L484.17,265 L480.83,268.33 L473.33,271.67 L467.5,275 L463.33,276.67 L462.5,277.5 L461.67,270.83 L461.17,267 L458.83,263.5 L455.33,257.67 L451.83,251.83 L448.83,246.5 L445.33,241.17 L442.33,236.5 L440.67,234.33 L440.83,230 L439.17,228 L440.33,225 L441.67,220 L443,215.83 L444.17,214.17 L443.33,211.67 L440.83,213 L436.67,213.33 L432.5,210.83 L428.33,212 L424.17,210.83 L421.67,207.5 L420.83,203.33 L421.67,200.33 L419.17,200.83 L416.67,201.67 L413.33,203.33 L414.17,205.83 L412.5,208.33 L413.33,211.67 L410.83,214.17 L409.17,210.83 L406.67,206.67 L405,204.17 L404.17,200.83 L403.33,198.33 L400.83,195.83 L397.5,191.67 L395.83,188.67 L393.33,189.17 L394.17,191.67 L396.67,195 L399.17,198.33 L402.5,200.83 L405.83,204.17 L404.17,203.33 L401.67,205.83 L400.33,210 L399.17,205 L395.83,201.67 L392.5,197.5 L390.83,193.33 L388.33,190.83 L385.83,192.5 L382.5,194.17 L378.67,193.67 L375.83,195.83 L372.5,197.5 L368.33,200 L365.83,203.33 L364.17,206.67 L361.67,210.83 L356.67,213.33 L351.67,214.67 L346.67,214.17 L343,212.5 L342,208.33 L343,203.33 L342.5,199.17 L343.33,195.83 L347.5,194.67 L353.33,195Z" fill="#f7fcfd" stroke="none"/>
<g clip-path="url(#cl29)" stroke="#5e5e5e" stroke-width="0.4">
<path d="M457.5,180.83 L459.17,176.67 L465,174.17 L471.67,175 L476.67,175.83 L482.5,174.17 L481.67,170 L484.17,167.5 L490.83,165.83 L498.33,164.67 L501.67,167.5 L507.5,168.33 L512.5,167 L517.5,170.83 L523.33,174.67 L530,176.67 L536.67,178.33 L540,180 L537.5,185.83 L533.33,186.67 L534.17,192.5 L530.83,194.17 L531.67,197.5 L528.33,200 L521.67,200 L513.33,202.5 L508.33,205 L501.67,201.67 L495,198.33 L488.33,195 L483.33,195 L480,196.67 L480.33,200 L476.67,200 L475,198.33 L470,195 L469.17,192.5 L472.5,190 L471.67,187.5 L465,186.67 L461.67,189.17 L458.33,185.83Z" fill="#9ebcda"/>
<path d="M510,201.47 L512.35,199.12 L518.82,196.18 L527.06,196.18 L532.35,197.35 L530.59,200.29 L526.47,201.47 L521.18,204.41 L517.65,205 L514.12,203.82 L510.59,203.82Z" fill="#9ebcda"/>
<path d="M540,180 L548.33,176.67 L558.33,175 L560.83,173.33 L568.33,176.67 L578.33,178.33 L588.33,177.5 L590,179.17 L597.5,178.33 L602.5,183.33 L609.17,185.83 L605.83,187.5 L601.67,188.33 L598.33,192.5 L594.17,196.67 L590,197.5 L588.33,200 L580,198.33 L571.67,196.67 L565,194.17 L558.33,192.5 L551.67,189.17 L547.5,185 L542.5,182.5Z" fill="#bfd3e6"/>
<path d="M478.82,191.47 L483.53,190.29 L487.06,192.06 L491.76,195 L497.65,195.59 L501.18,197.94 L505.29,200.29 L508.82,202.65 L510.35,202.65 L513.53,200.88 L515.29,199.12 L517.65,199.71 L515.29,201.47 L512.94,202.65 L510.82,204.41 L508.82,205.59 L507.29,207.35 L508,210.29 L506.47,211.82 L503.53,210.29 L500,207.35 L495.29,204.41 L491.18,201.47 L487.06,198.53 L483.53,196.76 L482.94,199.71 L480.59,200.29 L478.82,196.76Z" fill="#8c96c6"/>
<path d="M477.06,200.29 L480.59,200.29 L482.94,199.71 L483.53,196.76 L487.06,198.53 L491.18,201.47 L495.29,204.41 L500,207.35 L503.53,210.29 L506.47,211.82 L503.53,212.65 L502.94,215 L498.82,216.76 L496.47,218.53 L492.94,214.41 L488.82,211.47 L484.71,209.71 L480,210.29 L476.47,208.53Z" fill="#9ebcda"/>
<path d="M507.29,207.35 L508.82,205.59 L510.82,204.41 L510.35,202.65 L513.53,200.88 L512.94,202.65 L515.29,202.65 L517.65,203.82 L521.18,203.59 L522.12,206.18 L524.12,207.94 L525.29,210.29 L521.18,211.47 L518.24,212.29 L517.41,211.12 L515.88,208.76 L514.35,209.71 L512.35,211.59 L510,211.12 L508,210.29Z" fill="#8c96c6"/>
<path d="M496.47,218.53 L498.82,216.76 L502.94,215 L503.53,212.65 L506.47,211.82 L510,211.47 L512.35,211.82 L514.71,209.71 L515.88,209.12 L517.65,211.47 L518.24,212.65 L521.18,212.06 L525.29,211.12 L525.65,212.29 L522.35,213.24 L519.41,214.18 L518.24,215.82 L518.82,218.53 L517.65,220.88 L515.88,223.82 L514.12,225 L512.35,227.94 L510,230.29 L506.47,231.12 L502.35,231.47 L499.41,231.82 L498.82,228.53 L497.65,225.59 L496.47,222.06Z" fill="#88419d"/>
<path d="M525.65,212.29 L527.06,213.82 L530,215.59 L532.35,216.53 L530.59,217.94 L527.65,219.12 L527.06,221.47 L528.24,224.41 L528.82,226.76 L527.06,229.71 L525.29,233.24 L523.53,235.59 L520.59,238.53 L521.18,242.06 L522.35,244.41 L520,247.35 L515.29,246.18 L508.24,245 L502.35,243.82 L501.76,240.88 L503.53,238.53 L502.35,235 L499.41,231.82 L502.35,231.47 L506.47,231.12 L510,230.29 L512.35,227.94 L514.12,225 L515.88,223.82 L517.65,220.88 L518.82,218.53 L518.24,215.82 L519.41,214.18 L522.35,213.24Z" fill="#8c96c6"/>
<path d="M456.67,205.83 L460,205 L463.33,206.67 L467.5,206.67 L470.83,209.17 L474.17,211.33 L478,211.67 L483.33,210 L490,210.83 L495.83,214.17 L496.67,219.17 L495.83,223.33 L499.17,228.33 L500,231.33 L503.33,237.5 L502.5,244.17 L496.67,245 L490,243.33 L482.5,241.67 L478.33,238.33 L472.5,234.17 L470,231.67 L469.17,228.33 L464.17,220.83 L460.83,217.5 L459.17,212.5 L457.5,208.33Z" fill="#e0ecf4"/>
<path d="M441.67,230 L445,229.17 L447.5,225.83 L449.17,222.5 L455.83,226.67 L461.67,230 L466.67,232.5 L470.83,233.33 L473.33,237.5 L475.83,242.5 L479.17,246.67 L488.33,249.17 L489.17,253.33 L487.5,257.5 L482.5,260 L476.67,260.83 L471.67,262.5 L462.5,264.17 L460.83,265.83 L456.67,263.33 L450,250 L440,231.67Z" fill="#bfd3e6"/>
<path d="M479.17,246.67 L483.33,247.5 L488.33,245.83 L490,243.33 L489.67,249.17 L488.33,249.17Z" fill="#f7fcfd"/>
<path d="M488.33,249.17 L489.67,249.17 L490,243.33 L490,240.83 L491.67,240.83 L496.67,247.5 L500.83,251.67 L495.83,258.33 L485.83,266.67 L484.17,265 L482.5,260 L487.5,257.5 L489.17,253.33Z" fill="#bfd3e6"/>
<path d="M460.83,265.83 L462.5,264.17 L471.67,262.5 L476.67,260.83 L482.5,260 L484.17,265 L485.83,266.67 L473.33,275 L462.5,280 L460,273.33Z" fill="#88419d"/>
<path d="M518.33,246.67 L515,245.83 L516.67,240 L520.83,235 L525,230 L533.33,228.33 L542.5,231.67 L543.33,234.17 L549.17,235.83 L555.83,238.33 L561.67,239.17 L562.5,236.67 L568.33,236.33 L574.17,237.5 L578.33,233.33 L582.5,235.83 L575,243.33 L574.17,248.33 L573.33,254.17 L572.5,251.67 L571.67,247.5 L570,244.17 L565.83,241.67 L562.5,242.5 L563.33,246.67 L565,250.83 L562.5,254.17 L560,257.5 L550,273.33 L550,286.67 L543.33,290.83 L533.33,280 L525,255Z" fill="#bfd3e6"/>
<path d="M574.17,237.5 L578.33,233.33 L582.5,235.83 L585,240 L586.67,245.83 L589.17,250.83 L592.5,255 L590,257.5 L586.67,260.83 L587.5,265.83 L590,271.67 L591.33,276.67 L590.83,280 L587.5,273.33 L585,269.17 L580.83,270 L578.33,263.33 L571.67,255 L574.17,248.33 L575,243.33Z" fill="#bfd3e6"/>
<path d="M592.5,255 L595.83,250 L598.33,253.33 L600,255 L601.67,260 L604.17,263.33 L607.5,267.5 L610,271.67 L609.17,274.17 L605.83,273.33 L604.17,269.17 L601.67,265 L598.33,262.5 L595,263.33 L594.17,259.17Z" fill="#9ebcda"/>
<path d="M600,274.17 L603.33,272.5 L605.83,273.33 L609.17,274.17 L610,276.67 L609.17,280.83 L605.83,284.17 L601.67,282 L599.67,279.17Z" fill="#9ebcda"/>
<path d="M595.83,250 L601.67,248.67 L605.83,250.83 L609.17,253 L610,256.67 L607.5,259.17 L610,263.33 L616.67,270 L617.5,280 L611.67,285.83 L606.67,288.33 L605.83,284.17 L609.17,280.83 L610,276.67 L610,271.67 L607.5,267.5 L604.17,263.33 L601.67,260 L600,255 L598.33,253.33Z" fill="#e0ecf4"/>
<path d="M595,295 L599.17,293.33 L604.17,295.83 L606.67,301.67 L606.67,307.5 L602.5,308 L598.33,303.33 L595.83,299.17Z" fill="#e0ecf4"/>
<path d="M630,204.17 L633.67,200 L637.5,197.5 L639.67,197 L640.83,198.33 L639.17,200.83 L637.5,204.17 L639.67,207.5 L637.5,209.17 L634.17,210.83 L630.83,208Z" fill="#e0ecf4"/>
<path d="M542.35,231.47 L544.71,229.71 L549.41,232.06 L555.29,235 L561.18,236.76 L562.35,239.12 L557.65,238.53 L551.76,236.76 L545.88,234.41 L542.94,233.24Z" fill="#bfd3e6"/>
<path d="M562.94,236.76 L566.47,235.59 L570,236.18 L570,238.53 L565.88,239.35 L563.29,238.88Z" fill="#e0ecf4"/>
<path d="M562.35,241.47 L565.29,240.29 L567.65,242.65 L571.18,243.24 L571.76,246.18 L572.94,249.71 L572.35,252.65 L570.59,250.88 L568.24,252.65 L565.29,251.47 L563.76,246.18Z" fill="#9ebcda"/>
<path d="M600.59,177.82 L600.59,172.18 L602.94,169.82 L607.65,169.82 L613.53,172.18 L620.59,176.18 L627.65,180.18 L633.53,183.24 L637.76,183.24 L639.88,187.94 L638.24,192.65 L639.88,195 L639.41,197.59" fill="none"/>
<path d="M360.29,195.29 L369.12,197.65 L373.82,196.24 L377.94,194.71 L376.18,192.35 L376.76,189.41 L375.59,187.06 L376.76,185.29 L377.94,181.76 L374.41,179.41 L370.29,177.06 L366.18,175.29 L358.53,175.29 L352.65,180 L356.18,189.41Z" fill="#f7fcfd"/>
<path d="M376.18,169.41 L379.12,168 L382.06,167.06 L385.59,167.65 L390.29,168.24 L391.47,171.76 L392.06,175.29 L390.88,177.65 L387.35,178.82 L389.71,181.76 L388.53,184.12 L384.41,184.71 L380.29,185.29 L377.94,184.71 L377.94,181.76 L374.41,179.41 L375.59,176.47 L375.59,174.12Z" fill="#f7fcfd"/>
<path d="M390.29,168.24 L395,166.47 L400.88,166.82 L407.94,167.65 L409.71,170.59 L409.12,174.12 L410.29,177.65 L408.53,180.59 L404.41,180 L399.71,179.41 L396.18,178.24 L392.06,175.29 L391.47,171.76Z" fill="#f7fcfd"/>
<path d="M387.35,178.82 L390.88,177.65 L392.06,175.29 L396.18,178.24 L399.71,179.41 L396.76,181.18 L393.24,181.76 L389.71,181.76Z" fill="#f7fcfd"/>
<path d="M380.29,185.29 L384.41,184.71 L388.53,184.12 L389.71,181.76 L393.24,181.76 L396.18,182.94 L395.59,185.29 L392.65,187.06 L388.53,187.65 L384.41,186.47 L380.88,186.47Z" fill="#f7fcfd"/>
<path d="M375.59,187.06 L376.76,185.29 L380.29,185.29 L380.88,186.47 L382.65,187.65 L380.29,188.82 L377.35,189.18Z" fill="#f7fcfd"/>
<path d="M396.18,182.94 L397.94,183.53 L402.06,183.53 L406.76,182.94 L408.53,184.12 L405.59,187.06 L402.06,188.82 L397.35,188.82 L395,187.06 L395.59,185.29Z" fill="#f7fcfd"/>
<path d="M408.53,184.12 L412.65,182.94 L417.35,182.35 L419.71,185.29 L422.65,188.24 L425.59,190.59 L422.65,193.53 L417.35,194.12 L412.65,194.71 L409.71,192.94 L407.94,190.59 L405.59,187.06Z" fill="#f7fcfd"/>
<path d="M370.29,174.71 L373.82,175.29 L375.59,176.47 L374.41,179.41 L370.29,177.06 L367.94,175.88Z" fill="#f7fcfd"/>
<path d="M377.94,161.18 L380.88,158.82 L383.24,161.76 L382.06,165.29 L379.71,166.82 L378.29,164.12Z" fill="#f7fcfd"/>
<path d="M396.76,181.18 L399.71,179.41 L404.41,180 L408.53,180.59 L406.76,182.94 L402.06,183.53 L397.94,183.53 L396.18,182.94Z" fill="#f7fcfd"/>
<path d="M402.06,188.82 L405.59,187.06 L407.94,190.59 L409.71,192.94 L408.53,196.47 L406.18,195.88 L404.41,194.12 L402.65,191.76Z" fill="#f7fcfd"/>
<path d="M409.71,192.94 L412.65,194.71 L417.35,194.12 L422.65,193.53 L424.41,195.29 L422.06,197.06 L419.71,199.41 L415,200.59 L410.88,200 L410.29,198.82 L408.53,196.47Z" fill="#f7fcfd"/>
<path d="M407,201.18 L410.88,200 L415,200.59 L419.71,199.41 L421.47,200.59" fill="none"/>
<path d="M390.29,188.82 L395,187.06 L397.35,188.82 L402.06,188.82" fill="none"/>
<path d="M392.65,190.59 L396.18,191.76 L400.88,195.29 L404.41,194.12" fill="none"/>
<path d="M402.65,165.29 L407.94,164.12 L411.47,166.47 L409.71,169.41 L405.59,168.24 L402.65,167.65Z" fill="#f7fcfd"/>
<path d="M402.06,161.18 L407.94,160.59 L413.24,161.76 L411.47,166.47 L407.94,164.12 L402.65,165.29Z" fill="#f7fcfd"/>
<path d="M403.82,156.47 L410.29,155.88 L414.06,157.65 L413.24,161.76 L407.94,160.59 L404.18,159.76Z" fill="#f7fcfd"/>
<path d="M370.29,174.71 L370.88,173.53 L373.24,170.59 L376.18,169.41 L375.59,174.12 L375.59,176.47 L373.82,175.29Z" fill="#f7fcfd"/>
<path d="M341.67,214.17 L346.67,214.17 L346.33,208.33 L347.5,203.33 L347,199.17 L343.33,198.33 L340.83,200Z" fill="#f7fcfd"/>
<path d="M381.67,154.17 L382.5,148.33 L385,145 L385.83,140 L389.17,135.83 L393.33,132.5 L399.17,130 L401.67,130.83 L403,134.17 L400,137.5 L397.5,141.67 L394.17,145.83 L393.33,150 L394.17,154.17 L392.5,156.67 L389.17,159.17 L387.5,163.33 L385.33,165.83 L383.33,165 L383,159.17 L382,155.83Z" fill="#f7fcfd"/>
<path d="M401.67,130.83 L405,128.67 L410,128.33 L412.5,130.83 L413.33,135.83 L415.83,141.67 L419.17,146.67 L416.67,150 L415,152 L410,153.33 L404.17,152.5 L400.83,148.33 L400,143.33 L401.67,139.17 L403,134.17Z" fill="#f7fcfd"/>
<path d="M410,168.33 L409.17,173.33 L410.83,177.5 L416.67,174.17 L424.17,172.5 L425,168.33 L420.83,165 L415.83,162.5 L412.5,164.17Z" fill="#f7fcfd"/>
<path d="M410.83,177.5 L416.67,174.17 L424.17,172.5 L430,174.17 L435,176.67 L441.67,179.17 L444.17,181.67 L442.5,185 L438.33,186.67 L433.33,190 L426.67,188.33 L423.33,184.17 L418.33,185 L413.33,182.5 L410,180Z" fill="#f7fcfd"/>
<path d="M417.35,182.35 L419.71,182.59 L422.29,186.47 L423,188.82 L421.47,188.24 L419.71,185.29Z" fill="#e0ecf4"/>
<path d="M404.88,197.88 L406.53,198.35 L407,201.18 L405.82,204.12 L404.41,202.35Z" fill="#e0ecf4"/>
<path d="M406.29,196 L409.12,196.71 L410.29,198.82 L407.94,200.71 L406.53,198.82Z" fill="#e0ecf4"/>
<path d="M415.29,205.29 L420,204.71 L422.35,201.76 L427.06,200.82 L431.76,200.35 L437.65,200 L443.53,199.41 L448.24,199.41 L451.76,200 L454.12,201.76 L456.47,203.53 L458.24,205.88 L457.65,208.82 L455.29,210.59 L450.59,211.18 L445.88,211.76 L442.94,213.53 L441.76,215.29 L442.35,217.06 L440,214.71 L436.47,215.29 L431.76,215.88 L427.06,214.71 L423.53,215.88 L415.29,214.71Z" fill="#e0ecf4"/>
<path d="M445.29,194.12 L448.24,195.29 L451.76,196.47 L456.47,198.24 L458.82,199.41 L462.35,200.59 L466.47,201.18 L469.41,205.29 L464.71,205.29 L460.59,204.12 L459.41,205.29 L456.47,203.53 L454.12,201.76 L451.76,200 L450.82,198.47Z" fill="#e0ecf4"/>
<path d="M441.18,215.29 L442.94,213.53 L445.88,211.76 L450.59,211.18 L455.29,210.59 L454.71,214.12 L451.76,216.47 L448.82,219.41 L445.29,221.76 L442.94,222.35 L440.94,222 L440.59,218.82Z" fill="#9ebcda"/>
<path d="M455.29,210.59 L457.65,208.82 L460,210.59 L461.76,212.94 L464.12,216.47 L466.47,220.59 L468.82,226.47 L470.59,230.59 L468.24,232.35 L464.71,231.18 L460,228.24 L455.29,225.29 L450,221.76 L448.82,219.41 L451.76,216.47 L454.71,214.12Z" fill="#8c96c6"/>
<path d="M442.94,222.35 L445.29,221.76 L448.82,219.41 L450,221.76 L448.24,224.12 L447.06,226.47 L444.71,228.82 L441.76,231.76 L441.18,227.65 L441.76,224.71Z" fill="#9ebcda"/>
<path d="M438.82,222.35 L441.18,221.76 L441.76,224.71 L441.18,227.65 L441.76,231.76 L440.24,231.41 L438.82,226.47Z" fill="#9ebcda"/>
<path d="M468.24,232.35 L470.59,230.59 L472.35,233.53 L470,234.71Z" fill="#e0ecf4"/>
</g>
<path d="M359.17,195.33 L360,191.67 L358.33,187.5 L353.33,184.17 L356.67,182.5 L361.67,182.5 L362.5,180 L365.83,180.83 L368.33,178.33 L370.83,176.67 L374.17,173.33 L376.67,170.83 L379.17,170.83 L378.67,167.5 L378,163.33 L380,160 L381.67,162.5 L382.5,166.67 L383.33,169.17 L385.83,170 L390,169.67 L393.33,168.33 L398.33,167.5 L402.5,168 L404.17,166.67 L403.33,164.17 L402.5,160.83 L404.17,158.33 L407.5,159.17 L408.33,155.83 L410,153.33 L413.33,152.5 L416.67,151.67 L417.5,153.33 L415,151.67 L410,152.5 L405,151.67 L401.67,148.33 L400.83,143.33 L402.5,139.17 L403,134.17 L400,137.5 L397.5,141.67 L394.17,145.83 L393.33,150 L394.17,154.17 L392.5,156.67 L389.17,159.17 L387.5,163.33 L385.33,165 L385,164.17 L383.33,159.17 L382.5,155.83 L381.67,154.17 L379.17,157.5 L375.83,158.33 L374.17,155.83 L371.67,150 L372.5,145.83 L376.67,141.67 L381.67,137.5 L386.67,134.17 L392.5,130.83 L398.33,128.67 L404.17,128 L409.17,127.5 L413.33,129.17 L415,130.83 L417.5,130.83 L424.17,131.67 L430.83,133.33 L433.33,135.83 L431.67,139.17 L428.33,140.83 L424.17,139.17 L420.83,138.33 L423.33,140.83 L426.67,143.67 L429.17,142.5 L434.17,139.17 L436.67,134.17 L439.17,133.33 L440,137.5 L443.33,136.67 L448.33,134.17 L453.33,133.33 L460,132.5 L466.67,130.83 L471.67,130 L475,125 L479.17,125 L480,129.17 L476.67,132.5 L480.83,134.17 L484.17,126.67 L488.33,130.83 L487.5,138.33 L490.83,135.83 L491.67,129.17 L496.67,125 L500,121.67 L502.94,118.53 L508.82,117.35 L517.06,115 L522.94,116.18 L528.82,117.35 L535.88,118.53 L540.59,122.06 L547.65,123.24 L554.71,124.41 L560.59,122.06 L568.82,123.24 L575.88,125.59 L579.41,126.76 L585.29,124.41 L592.35,125.59 L601.76,127.94 L611.18,129.12 L620.59,130.29 L629.41,129.82 L638.82,131.47 L648.24,130.76 L657.65,129.12 L667.06,132.18 L672.94,136.18 L678.82,142.06 L688.24,147.94 L681.65,149.59 L675.29,151.94 L668.24,153.82 L670.59,158.06 L676.47,163.24 L677.65,170.29 L676.94,175.47 L672.94,171.47 L668.24,165.59 L663.53,162.06 L660.47,158.53 L662.35,152.65 L661.18,148.65 L657.65,151.47 L651.76,152.65 L648.24,155 L641.18,155.71 L634.12,156.18 L628.24,156.65 L625.88,162.06 L627.06,165.59 L634.12,167.94 L640,171.47 L644.71,177.35 L648.24,185.59 L647.76,192.65 L647.5,191.67 L644.17,196.67 L640.83,197.5 L639.67,197 L639.17,200.83 L637.5,204.17 L639.67,207.5 L643.33,210.83 L645.83,215 L644.17,218.33 L640.83,219.17 L638.33,215.83 L637.5,212.5 L637.5,209.17 L634.17,210 L631.67,207.5 L630,204.17 L625.83,205.83 L623.33,203.33 L620.33,202.83 L616.67,207 L618,209.67 L620.83,210.83 L625,210 L629.17,210.83 L625.83,214.17 L624.17,216.67 L627.5,220.83 L631.67,225 L634.17,228.33 L635,233.33 L634.17,238.33 L632.5,243.33 L629.17,247.5 L625,250 L620,252 L616.67,253.33 L615,255.83 L612.5,255.83 L610,254.17 L607.5,253.33 L607.5,255.83 L605.83,258.33 L607.5,261.67 L610,265 L613.33,269.17 L615.33,274.17 L615,279.17 L611.67,283.33 L607.5,286.67 L605.83,284.17 L602.5,280.83 L600,278.33 L597.5,276.67 L594.17,275.83 L592.5,280 L593.33,285 L595.83,290 L599.17,293.33 L602.5,296.67 L604.17,300.83 L605.33,305.83 L603.33,306.67 L600,303.33 L597.5,299.17 L596.67,294.17 L594.17,290.83 L591.67,286.67 L590.83,280.83 L591.33,276.67 L590,275 L588.33,270.83 L585.83,267.5 L581.67,268.33 L580,263.33 L576.67,258.33 L573.33,254.17 L572.5,251.67 L570.83,250.83 L568.33,251.67 L565,250.83 L562.5,254.17 L560,257.5 L555.83,261.67 L551.67,265.83 L548.33,270 L547.5,274.17 L547.5,280 L545.83,285.83 L543.67,288 L542.5,288.33 L540,285 L537.5,279.17 L535,272.5 L532.5,265.83 L530,259.17 L527.5,253.33 L524.17,251.67 L522.5,252.5 L520,250 L518.33,246.67 L518.33,246.33 L515.83,244.17 L513.33,242.5 L502.5,242.5 L496.67,243.33 L490.83,241.67 L486.67,239.17 L482.5,240 L478.33,236.67 L474.17,233.33 L470.83,230 L470,231.67 L470.83,233.33 L473.33,237.5 L475.83,242.5 L478.67,245.83 L479.67,243.83 L481,245.83 L483.33,247.5 L488.33,245.83 L490.33,242 L490.83,245.83 L495.83,248.33 L498.67,251.67 L495.83,256.67 L491.67,260 L487.5,263.33 L484.17,265 L480.83,268.33 L473.33,271.67 L467.5,275 L463.33,276.67 L462.5,277.5 L461.67,270.83 L461.17,267 L458.83,263.5 L455.33,257.67 L451.83,251.83 L448.83,246.5 L445.33,241.17 L442.33,236.5 L440.67,234.33 L440.83,230 L439.17,228 L440.33,225 L441.67,220 L443,215.83 L444.17,214.17 L443.33,211.67 L440.83,213 L436.67,213.33 L432.5,210.83 L428.33,212 L424.17,210.83 L421.67,207.5 L420.83,203.33 L421.67,200.33 L419.17,200.83 L416.67,201.67 L413.33,203.33 L414.17,205.83 L412.5,208.33 L413.33,211.67 L410.83,214.17 L409.17,210.83 L406.67,206.67 L405,204.17 L404.17,200.83 L403.33,198.33 L400.83,195.83 L397.5,191.67 L395.83,188.67 L393.33,189.17 L394.17,191.67 L396.67,195 L399.17,198.33 L402.5,200.83 L405.83,204.17 L404.17,203.33 L401.67,205.83 L400.33,210 L399.17,205 L395.83,201.67 L392.5,197.5 L390.83,193.33 L388.33,190.83 L385.83,192.5 L382.5,194.17 L378.67,193.67 L375.83,195.83 L372.5,197.5 L368.33,200 L365.83,203.33 L364.17,206.67 L361.67,210.83 L356.67,213.33 L351.67,214.67 L346.67,214.17 L343,212.5 L342,208.33 L343,203.33 L342.5,199.17 L343.33,195.83 L347.5,194.67 L353.33,195Z" fill="none" stroke="#5e5e5e" stroke-width="0.4"/>
<path d="M352.65,157.65 L355.59,157.06 L356.76,158.82 L358.53,160 L357.94,162.35 L360.29,165.29 L362.65,168.82 L365.59,171.76 L365.82,174.12 L363.24,175.29 L360.29,175.88 L356.76,176.47 L352.65,177.65 L351.47,177.06 L354.41,175.29 L352.65,173.53 L355,171.76 L353.82,169.41 L352.65,166.47 L353.24,164.12 L351.47,162.35 L351.47,160Z" fill="#e0ecf4" stroke="none"/>
<path d="M352.65,157.65 L355.59,157.06 L356.76,158.82 L358.53,160 L357.94,162.35 L360.29,165.29 L362.65,168.82 L365.59,171.76 L365.82,174.12 L363.24,175.29 L360.29,175.88 L356.76,176.47 L352.65,177.65 L351.47,177.06 L354.41,175.29 L352.65,173.53 L355,171.76 L353.82,169.41 L352.65,166.47 L353.24,164.12 L351.47,162.35 L351.47,160Z" fill="none" stroke="#5e5e5e" stroke-width="0.4"/>
<path d="M342.65,172.35 L343.82,168.82 L346.76,166.47 L349.71,165.29 L351.47,167.65 L350.29,170 L349.71,172.35 L346.76,173.53 L344.41,174.12Z" fill="#e0ecf4" stroke="none"/>
<path d="M342.65,172.35 L343.82,168.82 L346.76,166.47 L349.71,165.29 L351.47,167.65 L350.29,170 L349.71,172.35 L346.76,173.53 L344.41,174.12Z" fill="none" stroke="#5e5e5e" stroke-width="0.4"/>
<path d="M380.29,197.65 L382.65,197.06 L383,201.76 L381.47,204.12 L379.94,202.35Z" fill="#f7fcfd" stroke="none"/>
<path d="M380.29,197.65 L382.65,197.06 L383,201.76 L381.47,204.12 L379.94,202.35Z" fill="none" stroke="#5e5e5e" stroke-width="0.4"/>
<path d="M381.12,193.53 L382.29,192.94 L382.65,196.24 L381.47,196.71Z" fill="#f7fcfd" stroke="none"/>
<path d="M381.12,193.53 L382.29,192.94 L382.65,196.24 L381.47,196.71Z" fill="none" stroke="#5e5e5e" stroke-width="0.4"/>
<path d="M394.17,209.17 L399.17,208.33 L400,211.67 L395.83,212.5Z" fill="#f7fcfd" stroke="none"/>
<path d="M394.17,209.17 L399.17,208.33 L400,211.67 L395.83,212.5Z" fill="none" stroke="#5e5e5e" stroke-width="0.4"/>
<path d="M414.17,215.83 L420.83,216.33 L420.83,217.5 L414.67,217.17Z" fill="#f7fcfd" stroke="none"/>
<path d="M414.17,215.83 L420.83,216.33 L420.83,217.5 L414.67,217.17Z" fill="none" stroke="#5e5e5e" stroke-width="0.4"/>
<path d="M377.5,110.83 L385,109.17 L393.33,109.17 L400.83,110 L398.33,112.5 L393.33,113.33 L390,115.83 L385.83,116.67 L381.67,114.17Z" fill="#f7fcfd" stroke="none"/>
<path d="M377.5,110.83 L385,109.17 L393.33,109.17 L400.83,110 L398.33,112.5 L393.33,113.33 L390,115.83 L385.83,116.67 L381.67,114.17Z" fill="none" stroke="#5e5e5e" stroke-width="0.4"/>
<path d="M446.67,125.83 L449.17,120.83 L455,117.5 L463.33,115.83 L467.5,116.33 L460,119.17 L454.17,121.67 L452.5,125 L457.5,128.33 L453.33,128.67 L449.17,128Z" fill="#f7fcfd" stroke="none"/>
<path d="M446.67,125.83 L449.17,120.83 L455,117.5 L463.33,115.83 L467.5,116.33 L460,119.17 L454.17,121.67 L452.5,125 L457.5,128.33 L453.33,128.67 L449.17,128Z" fill="none" stroke="#5e5e5e" stroke-width="0.4"/>
<path d="M493.53,109.12 L500.59,107.24 L507.65,109.59 L517.06,112.65 L512.35,114.29 L502.94,112.65Z" fill="#f7fcfd" stroke="none"/>
<path d="M493.53,109.12 L500.59,107.24 L507.65,109.59 L517.06,112.65 L512.35,114.29 L502.94,112.65Z" fill="none" stroke="#5e5e5e" stroke-width="0.4"/>
<path d="M574.71,118.53 L582.94,116.65 L590,118.53 L598.24,119 L592.35,120.88 L580.59,120.41Z" fill="#f7fcfd" stroke="none"/>
<path d="M574.71,118.53 L582.94,116.65 L590,118.53 L598.24,119 L592.35,120.88 L580.59,120.41Z" fill="none" stroke="#5e5e5e" stroke-width="0.4"/>
<path d="M643.33,170 L647.5,174.17 L652.5,180 L658.33,186.67 L656.67,187.5 L652.5,183.33 L647.5,177.5 L642.5,171.67Z" fill="#f7fcfd" stroke="none"/>
<path d="M643.33,170 L647.5,174.17 L652.5,180 L658.33,186.67 L656.67,187.5 L652.5,183.33 L647.5,177.5 L642.5,171.67Z" fill="none" stroke="#5e5e5e" stroke-width="0.4"/>
<path d="M658.33,190.83 L663.33,192.5 L669.17,195 L666.67,197.5 L663.33,199.17 L660.83,200 L658.67,196.67Z" fill="#f7fcfd" stroke="none"/>
<path d="M658.33,190.83 L663.33,192.5 L669.17,195 L666.67,197.5 L663.33,199.17 L660.83,200 L658.67,196.67Z" fill="none" stroke="#5e5e5e" stroke-width="0.4"/>
<path d="M661.67,200.83 L665,204.17 L668.33,209.17 L670.33,214.17 L669.17,217.5 L665,219.17 L661.67,218.33 L660,220 L656.67,221.67 L653.33,222.5 L650,221.67 L652.5,218.33 L656.67,216.67 L660,215 L660.83,211.67 L663.33,207.5 L662,204.17Z" fill="#f7fcfd" stroke="none"/>
<path d="M661.67,200.83 L665,204.17 L668.33,209.17 L670.33,214.17 L669.17,217.5 L665,219.17 L661.67,218.33 L660,220 L656.67,221.67 L653.33,222.5 L650,221.67 L652.5,218.33 L656.67,216.67 L660,215 L660.83,211.67 L663.33,207.5 L662,204.17Z" fill="none" stroke="#5e5e5e" stroke-width="0.4"/>
<path d="M648.67,222 L652.5,223.33 L654.17,226.67 L652.5,228 L650.33,225.83Z" fill="#f7fcfd" stroke="none"/>
<path d="M648.67,222 L652.5,223.33 L654.17,226.67 L652.5,228 L650.33,225.83Z" fill="none" stroke="#5e5e5e" stroke-width="0.4"/>
<path d="M655.83,222 L660,220.83 L659.17,223 L655.83,223.67Z" fill="#f7fcfd" stroke="none"/>
<path d="M655.83,222 L660,220.83 L659.17,223 L655.83,223.67Z" fill="none" stroke="#5e5e5e" stroke-width="0.4"/>
<path d="M636.67,243.33 L638.67,243 L639.17,247.5 L638,251.67 L636.33,250 L635.83,245.83Z" fill="#f7fcfd" stroke="none"/>
<path d="M636.67,243.33 L638.67,243 L639.17,247.5 L638,251.67 L636.33,250 L635.83,245.83Z" fill="none" stroke="#5e5e5e" stroke-width="0.4"/>
<path d="M612,257.5 L614.67,256.33 L616.33,258.67 L615,261.33 L612.5,261.33 L611.33,259.67Z" fill="#f7fcfd" stroke="none"/>
<path d="M612,257.5 L614.67,256.33 L616.33,258.67 L615,261.33 L612.5,261.33 L611.33,259.67Z" fill="none" stroke="#5e5e5e" stroke-width="0.4"/>
<path d="M547.5,285 L549.67,283.67 L552,287.5 L552.5,291.67 L550,294.17 L548,292 L547,288.33Z" fill="#e0ecf4" stroke="none"/>
<path d="M547.5,285 L549.67,283.67 L552,287.5 L552.5,291.67 L550,294.17 L548,292 L547,288.33Z" fill="none" stroke="#5e5e5e" stroke-width="0.4"/>
<path d="M420,191.76 L423.53,189.41 L427.06,187.65 L430.59,188.82 L434.12,188.24 L435.88,190.59 L438.82,191.18 L441.18,189.41 L437.65,187.65 L439.41,185.29 L443.53,182.35 L444.12,184.71 L442.35,187.06 L444.71,191.18 L448.24,195.29 L451.18,198.82 L451.76,200 L448.24,199.41 L443.53,199.41 L437.65,200 L431.76,200.35 L427.06,200.82 L422.35,201.53 L420,200.82 L418.24,196.47Z" fill="#ffffff" stroke="none"/>
<path d="M420,191.76 L423.53,189.41 L427.06,187.65 L430.59,188.82 L434.12,188.24 L435.88,190.59 L438.82,191.18 L441.18,189.41 L437.65,187.65 L439.41,185.29 L443.53,182.35 L444.12,184.71 L442.35,187.06 L444.71,191.18 L448.24,195.29 L451.18,198.82 L451.76,200 L448.24,199.41 L443.53,199.41 L437.65,200 L431.76,200.35 L427.06,200.82 L422.35,201.53 L420,200.82 L418.24,196.47Z" fill="none" stroke="#5e5e5e" stroke-width="0.4"/>
<path d="M460.59,191.18 L462.94,189.41 L467.06,187.06 L471.18,186.47 L472.35,187.65 L470.59,189.41 L469.41,191.76 L471.76,194.71 L474.12,198.24 L477.65,199.41 L476.47,201.18 L475.29,201.76 L476.24,205.29 L478.24,208.82 L478.82,211.76 L475.29,212.35 L471.76,211.18 L470,208.24 L468.24,204.71 L466.47,201.18 L464.12,197.65 L461.76,194.71Z" fill="#ffffff" stroke="none"/>
<path d="M460.59,191.18 L462.94,189.41 L467.06,187.06 L471.18,186.47 L472.35,187.65 L470.59,189.41 L469.41,191.76 L471.76,194.71 L474.12,198.24 L477.65,199.41 L476.47,201.18 L475.29,201.76 L476.24,205.29 L478.24,208.82 L478.82,211.76 L475.29,212.35 L471.76,211.18 L470,208.24 L468.24,204.71 L466.47,201.18 L464.12,197.65 L461.76,194.71Z" fill="none" stroke="#5e5e5e" stroke-width="0.4"/>
<path d="M433.53,217.06 L435.88,216.12 L437.65,215.65 L436.47,217.65 L434.12,218.47Z" fill="#e0ecf4" stroke="none"/>
<path d="M433.53,217.06 L435.88,216.12 L437.65,215.65 L436.47,217.65 L434.12,218.47Z" fill="none" stroke="#5e5e5e" stroke-width="0.4"/>
<path d="M616,398.82 L618.82,391.76 L618.35,381.18 L621.18,371.76 L628.24,365.88 L636.47,361.18 L643.53,355.29 L647.06,351.76 L652.94,348.24 L658.82,347.06 L661.65,342.35 L668.24,340 L672.94,341.65 L677.65,341.65 L675.29,347.06 L678.82,351.76 L683.53,355.29 L687.06,355.29 L689.88,348.24 L692.24,338.82 L694.12,342.35 L696,349.41 L698.82,355.29 L703.53,362.35 L707.06,370.59 L708.71,378.82 L707.06,387.06 L703.53,394.12 L698.82,400 L694.12,404.71 L688.24,408.24 L681.18,411.29 L675.29,412.24 L669.41,410.59 L667.06,405.88 L665.88,398.82 L663.53,401.18 L661.65,398.82 L656.47,395.29 L648.24,394.12 L640,396.47 L632.94,398.82 L625.88,401.18 L620,402.35Z" fill="#e0ecf4" stroke="none"/>
<path d="M616,398.82 L618.82,391.76 L618.35,381.18 L621.18,371.76 L628.24,365.88 L636.47,361.18 L643.53,355.29 L647.06,351.76 L652.94,348.24 L658.82,347.06 L661.65,342.35 L668.24,340 L672.94,341.65 L677.65,341.65 L675.29,347.06 L678.82,351.76 L683.53,355.29 L687.06,355.29 L689.88,348.24 L692.24,338.82 L694.12,342.35 L696,349.41 L698.82,355.29 L703.53,362.35 L707.06,370.59 L708.71,378.82 L707.06,387.06 L703.53,394.12 L698.82,400 L694.12,404.71 L688.24,408.24 L681.18,411.29 L675.29,412.24 L669.41,410.59 L667.06,405.88 L665.88,398.82 L663.53,401.18 L661.65,398.82 L656.47,395.29 L648.24,394.12 L640,396.47 L632.94,398.82 L625.88,401.18 L620,402.35Z" fill="none" stroke="#5e5e5e" stroke-width="0.4"/>
<path d="M671.76,417.65 L678.82,416.94 L677.65,420.71 L672.94,420.71Z" fill="#e0ecf4" stroke="none"/>
<path d="M671.76,417.65 L678.82,416.94 L677.65,420.71 L672.94,420.71Z" fill="none" stroke="#5e5e5e" stroke-width="0.4"/>
<path d="M667.06,311.76 L671.76,310.59 L675.29,314.12 L678.82,316.47 L683.53,314.82 L690.12,316.47 L696.47,317.65 L701.18,321.18 L704.71,325.88 L707.06,330.59 L711.76,336.47 L705.88,335.29 L700,332.94 L694.12,333.65 L690.12,332.94 L685.88,330.59 L682.35,327.06 L680,323.53 L675.29,320 L670.59,317.65 L668.24,314.12Z" fill="#bfd3e6" stroke="none"/>
<g clip-path="url(#cl53)" stroke="#5e5e5e" stroke-width="0.4">
<path d="M690.12,312.94 L715.29,312.94 L715.29,338.82 L690.12,338.82Z" fill="#9ebcda"/>
</g>
<path d="M667.06,311.76 L671.76,310.59 L675.29,314.12 L678.82,316.47 L683.53,314.82 L690.12,316.47 L696.47,317.65 L701.18,321.18 L704.71,325.88 L707.06,330.59 L711.76,336.47 L705.88,335.29 L700,332.94 L694.12,333.65 L690.12,332.94 L685.88,330.59 L682.35,327.06 L680,323.53 L675.29,320 L670.59,317.65 L668.24,314.12Z" fill="none" stroke="#5e5e5e" stroke-width="0.4"/>
<path d="M707.06,323.53 L712.94,323.53 L717.65,318.82 L718.82,321.18 L715.29,325.88 L709.41,325.88Z" fill="#9ebcda" stroke="none"/>
<path d="M707.06,323.53 L712.94,323.53 L717.65,318.82 L718.82,321.18 L715.29,325.88 L709.41,325.88Z" fill="none" stroke="#5e5e5e" stroke-width="0.4"/>
<path d="M737.65,362.35 L739.29,362.35 L743.53,367.53 L742.59,368.94 L738.82,365.18Z" fill="#e0ecf4" stroke="none"/>
<path d="M737.65,362.35 L739.29,362.35 L743.53,367.53 L742.59,368.94 L738.82,365.18Z" fill="none" stroke="#5e5e5e" stroke-width="0.4"/>
<path d="M769.41,355.76 L771.76,354.82 L772.94,356.71 L770.35,358.12Z" fill="#bfd3e6" stroke="none"/>
<path d="M769.41,355.76 L771.76,354.82 L772.94,356.71 L770.35,358.12Z" fill="none" stroke="#5e5e5e" stroke-width="0.4"/>
<path d="M773.65,353.41 L776.47,352.47 L776.47,353.88 L774.12,354.82Z" fill="#bfd3e6" stroke="none"/>
<path d="M773.65,353.41 L776.47,352.47 L776.47,353.88 L774.12,354.82Z" fill="none" stroke="#5e5e5e" stroke-width="0.4"/>
<path d="M616.67,307.5 L620,303.33 L626.67,300.83 L630,296.67 L634.17,291.67 L637.5,295 L638.33,299.17 L635.83,300.83 L638.33,305 L639.17,310 L636.67,315 L634.17,318.33 L630,320.83 L625.83,318.33 L620.83,317.5 L617.5,313.33Z" fill="#bfd3e6" stroke="none"/>
<g clip-path="url(#cl58)" stroke="#5e5e5e" stroke-width="0.4">
<path d="M615,303.33 L620,303.33 L626.67,300 L630,296.67 L633.33,290 L640,295 L638.33,299.17 L635,300 L631.67,300.83 L626.67,304.17 L622.5,306.67 L620.33,306.33Z" fill="#e0ecf4"/>
</g>
<path d="M616.67,307.5 L620,303.33 L626.67,300.83 L630,296.67 L634.17,291.67 L637.5,295 L638.33,299.17 L635.83,300.83 L638.33,305 L639.17,310 L636.67,315 L634.17,318.33 L630,320.83 L625.83,318.33 L620.83,317.5 L617.5,313.33Z" fill="none" stroke="#5e5e5e" stroke-width="0.4"/>
<path d="M608.24,325.88 L616.47,327.06 L624.71,328.94 L630.59,331.29 L629.41,333.18 L621.18,332 L612.94,330.12 L608.24,328.24Z" fill="#bfd3e6" stroke="none"/>
<path d="M608.24,325.88 L616.47,327.06 L624.71,328.94 L630.59,331.29 L629.41,333.18 L621.18,332 L612.94,330.12 L608.24,328.24Z" fill="none" stroke="#5e5e5e" stroke-width="0.4"/>
<path d="M632.94,332.24 L638.82,331.29 L639.53,333.65 L633.41,334.12Z" fill="#bfd3e6" stroke="none"/>
<path d="M632.94,332.24 L638.82,331.29 L639.53,333.65 L633.41,334.12Z" fill="none" stroke="#5e5e5e" stroke-width="0.4"/>
<path d="M640.47,331.76 L648.24,330.82 L648.24,332.71 L641.18,333.65Z" fill="#bfd3e6" stroke="none"/>
<path d="M640.47,331.76 L648.24,330.82 L648.24,332.71 L641.18,333.65Z" fill="none" stroke="#5e5e5e" stroke-width="0.4"/>
<path d="M648.24,335.29 L657.65,331.76 L658.35,333.41 L649.88,337.18Z" fill="#bfd3e6" stroke="none"/>
<g clip-path="url(#cl62)" stroke="#5e5e5e" stroke-width="0.4">
<path d="M652.94,330.59 L658.82,330.59 L658.82,334.59 L653.65,336Z" fill="#8c96c6"/>
</g>
<path d="M648.24,335.29 L657.65,331.76 L658.35,333.41 L649.88,337.18Z" fill="none" stroke="#5e5e5e" stroke-width="0.4"/>
<path d="M637.65,335.29 L641.88,334.82 L641.88,336.47 L638.12,336.94Z" fill="#bfd3e6" stroke="none"/>
<path d="M637.65,335.29 L641.88,334.82 L641.88,336.47 L638.12,336.94Z" fill="none" stroke="#5e5e5e" stroke-width="0.4"/>
<path d="M641.18,308.24 L652.94,305.88 L654.12,308.24 L645.88,310.59 L647.06,315.29 L650.59,317.65 L648.24,320 L644.71,316.47 L644.71,322.35 L641.18,323.53 L639.53,317.65 L640,311.76Z" fill="#bfd3e6" stroke="none"/>
<path d="M641.18,308.24 L652.94,305.88 L654.12,308.24 L645.88,310.59 L647.06,315.29 L650.59,317.65 L648.24,320 L644.71,316.47 L644.71,322.35 L641.18,323.53 L639.53,317.65 L640,311.76Z" fill="none" stroke="#5e5e5e" stroke-width="0.4"/>
<path d="M658.82,304.71 L661.18,303.53 L662.35,310.59 L660,311.76Z" fill="#bfd3e6" stroke="none"/>
<path d="M658.82,304.71 L661.18,303.53 L662.35,310.59 L660,311.76Z" fill="none" stroke="#5e5e5e" stroke-width="0.4"/>
<path d="M656,317.65 L667.06,317.65 L667.06,319.53 L656.47,319.53Z" fill="#bfd3e6" stroke="none"/>
<path d="M656,317.65 L667.06,317.65 L667.06,319.53 L656.47,319.53Z" fill="none" stroke="#5e5e5e" stroke-width="0.4"/>
<path d="M584.71,295.88 L589.41,294.71 L595.29,300.59 L601.18,307.65 L605.88,313.53 L608.94,318.24 L609.88,323.41 L608.24,325.76 L604.71,324.12 L598.82,318.71 L592.94,311.65 L587.76,302.94Z" fill="#bfd3e6" stroke="none"/>
<path d="M584.71,295.88 L589.41,294.71 L595.29,300.59 L601.18,307.65 L605.88,313.53 L608.94,318.24 L609.88,323.41 L608.24,325.76 L604.71,324.12 L598.82,318.71 L592.94,311.65 L587.76,302.94Z" fill="none" stroke="#5e5e5e" stroke-width="0.4"/>
<path d="M639.53,261.29 L642.82,260.82 L643.76,266.47 L642.82,270.71 L645.18,273.06 L648.94,274 L650.59,277.06 L648.24,276.35 L644.71,275.41 L642.35,273.06 L640,270 L638.82,265.29Z" fill="#bfd3e6" stroke="none"/>
<path d="M639.53,261.29 L642.82,260.82 L643.76,266.47 L642.82,270.71 L645.18,273.06 L648.94,274 L650.59,277.06 L648.24,276.35 L644.71,275.41 L642.35,273.06 L640,270 L638.82,265.29Z" fill="none" stroke="#5e5e5e" stroke-width="0.4"/>
<path d="M645.88,279.41 L650.59,278.71 L653.65,280.59 L652.24,283.41 L648.94,284.82 L646.59,282.47Z" fill="#bfd3e6" stroke="none"/>
<path d="M645.88,279.41 L650.59,278.71 L653.65,280.59 L652.24,283.41 L648.94,284.82 L646.59,282.47Z" fill="none" stroke="#5e5e5e" stroke-width="0.4"/>
<path d="M646.59,288.82 L650.59,286.47 L654.59,285.29 L656.47,288.82 L655.53,293.53 L652.24,294.71 L650.35,292.35 L647.53,291.88Z" fill="#bfd3e6" stroke="none"/>
<path d="M646.59,288.82 L650.59,286.47 L654.59,285.29 L656.47,288.82 L655.53,293.53 L652.24,294.71 L650.35,292.35 L647.53,291.88Z" fill="none" stroke="#5e5e5e" stroke-width="0.4"/>
<path d="M634.82,287.65 L639.53,280.12 L640.47,281.06 L635.76,288.12Z" fill="#bfd3e6" stroke="none"/>
<path d="M634.82,287.65 L639.53,280.12 L640.47,281.06 L635.76,288.12Z" fill="none" stroke="#5e5e5e" stroke-width="0.4"/>
<path d="M722.35,324.12 L723.76,323.88 L727.53,327.65 L726.59,328.35Z" fill="#8c96c6" stroke="none"/>
<path d="M722.35,324.12 L723.76,323.88 L727.53,327.65 L726.59,328.35Z" fill="none" stroke="#5e5e5e" stroke-width="0.4"/>
<path d="M729.41,329.53 L730.82,329.06 L736,334.71 L736.94,337.06 L735.53,337.06 L732.94,333.53Z" fill="#8c96c6" stroke="none"/>
<path d="M729.41,329.53 L730.82,329.06 L736,334.71 L736.94,337.06 L735.53,337.06 L732.94,333.53Z" fill="none" stroke="#5e5e5e" stroke-width="0.4"/>
<path d="M746.82,348.71 L748,348.71 L748.47,352.47 L747.53,352.47Z" fill="#8c96c6" stroke="none"/>
<path d="M746.82,348.71 L748,348.71 L748.47,352.47 L747.53,352.47Z" fill="none" stroke="#5e5e5e" stroke-width="0.4"/>
<path d="M742.12,401.18 L744.24,401.46 L744.94,406.12 L746.36,408.94 L749.89,409.37 L747.77,412.19 L744.24,414.59 L740,417.41 L736.47,419.81 L735.06,418.83 L736.47,416 L737.18,413.18 L740,411.77 L742.12,408.24 L741.84,404Z" fill="#e0ecf4" stroke="none"/>
<path d="M742.12,401.18 L744.24,401.46 L744.94,406.12 L746.36,408.94 L749.89,409.37 L747.77,412.19 L744.24,414.59 L740,417.41 L736.47,419.81 L735.06,418.83 L736.47,416 L737.18,413.18 L740,411.77 L742.12,408.24 L741.84,404Z" fill="none" stroke="#5e5e5e" stroke-width="0.4"/>
<path d="M730.83,416.99 L733.65,418.12 L732.94,420.24 L728.71,423.06 L725.18,425.46 L720.24,428 L716,430.83 L712.47,432.52 L708.94,431.96 L708.24,430.54 L711.77,428 L716.71,425.46 L722.35,422.35 L727.3,419.25Z" fill="#e0ecf4" stroke="none"/>
<path d="M730.83,416.99 L733.65,418.12 L732.94,420.24 L728.71,423.06 L725.18,425.46 L720.24,428 L716,430.83 L712.47,432.52 L708.94,431.96 L708.24,430.54 L711.77,428 L716.71,425.46 L722.35,422.35 L727.3,419.25Z" fill="none" stroke="#5e5e5e" stroke-width="0.4"/>
<path d="M304.6,264.6 L305.8,264.6 L305.8,265.8 L304.6,265.8Z" fill="#9ebcda" stroke="none"/>
<path d="M304.6,264.6 L305.8,264.6 L305.8,265.8 L304.6,265.8Z" fill="none" stroke="#5e5e5e" stroke-width="0.4"/>
<path d="M306.6,266.8 L307.6,266.8 L307.6,267.8 L306.6,267.8Z" fill="#9ebcda" stroke="none"/>
<path d="M306.6,266.8 L307.6,266.8 L307.6,267.8 L306.6,267.8Z" fill="none" stroke="#5e5e5e" stroke-width="0.4"/>
<path d="M4.5,255.5 L6.5,256 L7.5,258.5 L6,259.5 L4.5,258Z" fill="#e0ecf4" stroke="none"/>
<path d="M4.5,255.5 L6.5,256 L7.5,258.5 L6,259.5 L4.5,258Z" fill="none" stroke="#5e5e5e" stroke-width="0.4"/>
<path d="M1,252.5 L2.8,253 L2.8,254.2 L1,254Z" fill="#e0ecf4" stroke="none"/>
<path d="M1,252.5 L2.8,253 L2.8,254.2 L1,254Z" fill="none" stroke="#5e5e5e" stroke-width="0.4"/>
</g>
<g id="legend">
<rect x="98.5" y="518.5" width="48" height="10" fill="url(#hatch)" stroke="#b0b0b0" stroke-width="0.6"/>
<line x1="122.5" y1="515" x2="122.5" y2="518.5" stroke="#a8a8a8" stroke-width="0.6"/>
<text x="122.5" y="511" text-anchor="middle" class="lg">No data</text>
<rect x="166.50" y="518.5" width="58.45" height="10" fill="#f7fcfd" stroke="#a8a8a8" stroke-width="0.5"/>
<rect x="224.95" y="518.5" width="58.45" height="10" fill="#e0ecf4" stroke="#a8a8a8" stroke-width="0.5"/>
<rect x="283.40" y="518.5" width="58.45" height="10" fill="#bfd3e6" stroke="#a8a8a8" stroke-width="0.5"/>
<rect x="341.85" y="518.5" width="58.45" height="10" fill="#9ebcda" stroke="#a8a8a8" stroke-width="0.5"/>
<rect x="400.30" y="518.5" width="58.45" height="10" fill="#8c96c6" stroke="#a8a8a8" stroke-width="0.5"/>
<rect x="458.75" y="518.5" width="58.45" height="10" fill="#8c6bb1" stroke="#a8a8a8" stroke-width="0.5"/>
<rect x="517.20" y="518.5" width="58.45" height="10" fill="#88419d" stroke="#a8a8a8" stroke-width="0.5"/>
<rect x="575.65" y="518.5" width="58.45" height="10" fill="#810f7c" stroke="#a8a8a8" stroke-width="0.5"/>
<rect x="634.10" y="518.5" width="58.45" height="10" fill="#670864" stroke="#a8a8a8" stroke-width="0.5"/>
<path d="M692.55,518.5 L745.50,518.5 L751.00,523.5 L745.50,528.5 L692.55,528.5 Z" fill="#4d004b" stroke="#a8a8a8" stroke-width="0.5"/>
<line x1="166.50" y1="515" x2="166.50" y2="528.5" stroke="#a8a8a8" stroke-width="0.6"/>
<text x="166.50" y="511" text-anchor="middle" class="lg">0</text>
<line x1="224.95" y1="515" x2="224.95" y2="528.5" stroke="#a8a8a8" stroke-width="0.6"/>
<text x="224.95" y="511" text-anchor="middle" class="lg">10</text>
<line x1="283.40" y1="515" x2="283.40" y2="528.5" stroke="#a8a8a8" stroke-width="0.6"/>
<text x="283.40" y="511" text-anchor="middle" class="lg">15</text>
<line x1="341.85" y1="515" x2="341.85" y2="528.5" stroke="#a8a8a8" stroke-width="0.6"/>
<text x="341.85" y="511" text-anchor="middle" class="lg">20</text>
<line x1="400.30" y1="515" x2="400.30" y2="528.5" stroke="#a8a8a8" stroke-width="0.6"/>
<text x="400.30" y="511" text-anchor="middle" class="lg">25</text>
<line x1="458.75" y1="515" x2="458.75" y2="528.5" stroke="#a8a8a8" stroke-width="0.6"/>
<text x="458.75" y="511" text-anchor="middle" class="lg">30</text>
<line x1="517.20" y1="515" x2="517.20" y2="528.5" stroke="#a8a8a8" stroke-width="0.6"/>
<text x="517.20" y="511" text-anchor="middle" class="lg">35</text>
<line x1="575.65" y1="515" x2="575.65" y2="528.5" stroke="#a8a8a8" stroke-width="0.6"/>
<text x="575.65" y="511" text-anchor="middle" class="lg">40</text>
<line x1="634.10" y1="515" x2="634.10" y2="528.5" stroke="#a8a8a8" stroke-width="0.6"/>
<text x="634.10" y="511" text-anchor="middle" class="lg">45</text>
<line x1="692.55" y1="515" x2="692.55" y2="528.5" stroke="#a8a8a8" stroke-width="0.6"/>
<text x="692.55" y="511" text-anchor="middle" class="lg">50</text>
</g>
</svg>
<div class="title">Birth rate, 2023</div>
<div class="sub">The total number of births per 1,000 people in a given year.</div>
<div class="logo"><span>Our World<br>in Data</span></div>
<div class="foot f1"><b>Data source:</b> Human Mortality Database (2025); UN, World Population Prospects (2024)</div>
<div class="foot f2"><b>Note:</b> The birth rate is not adjusted for the change in the population's age structure.</div>
<div class="fr">fertility-rate | CC BY</div>
</body></html>
